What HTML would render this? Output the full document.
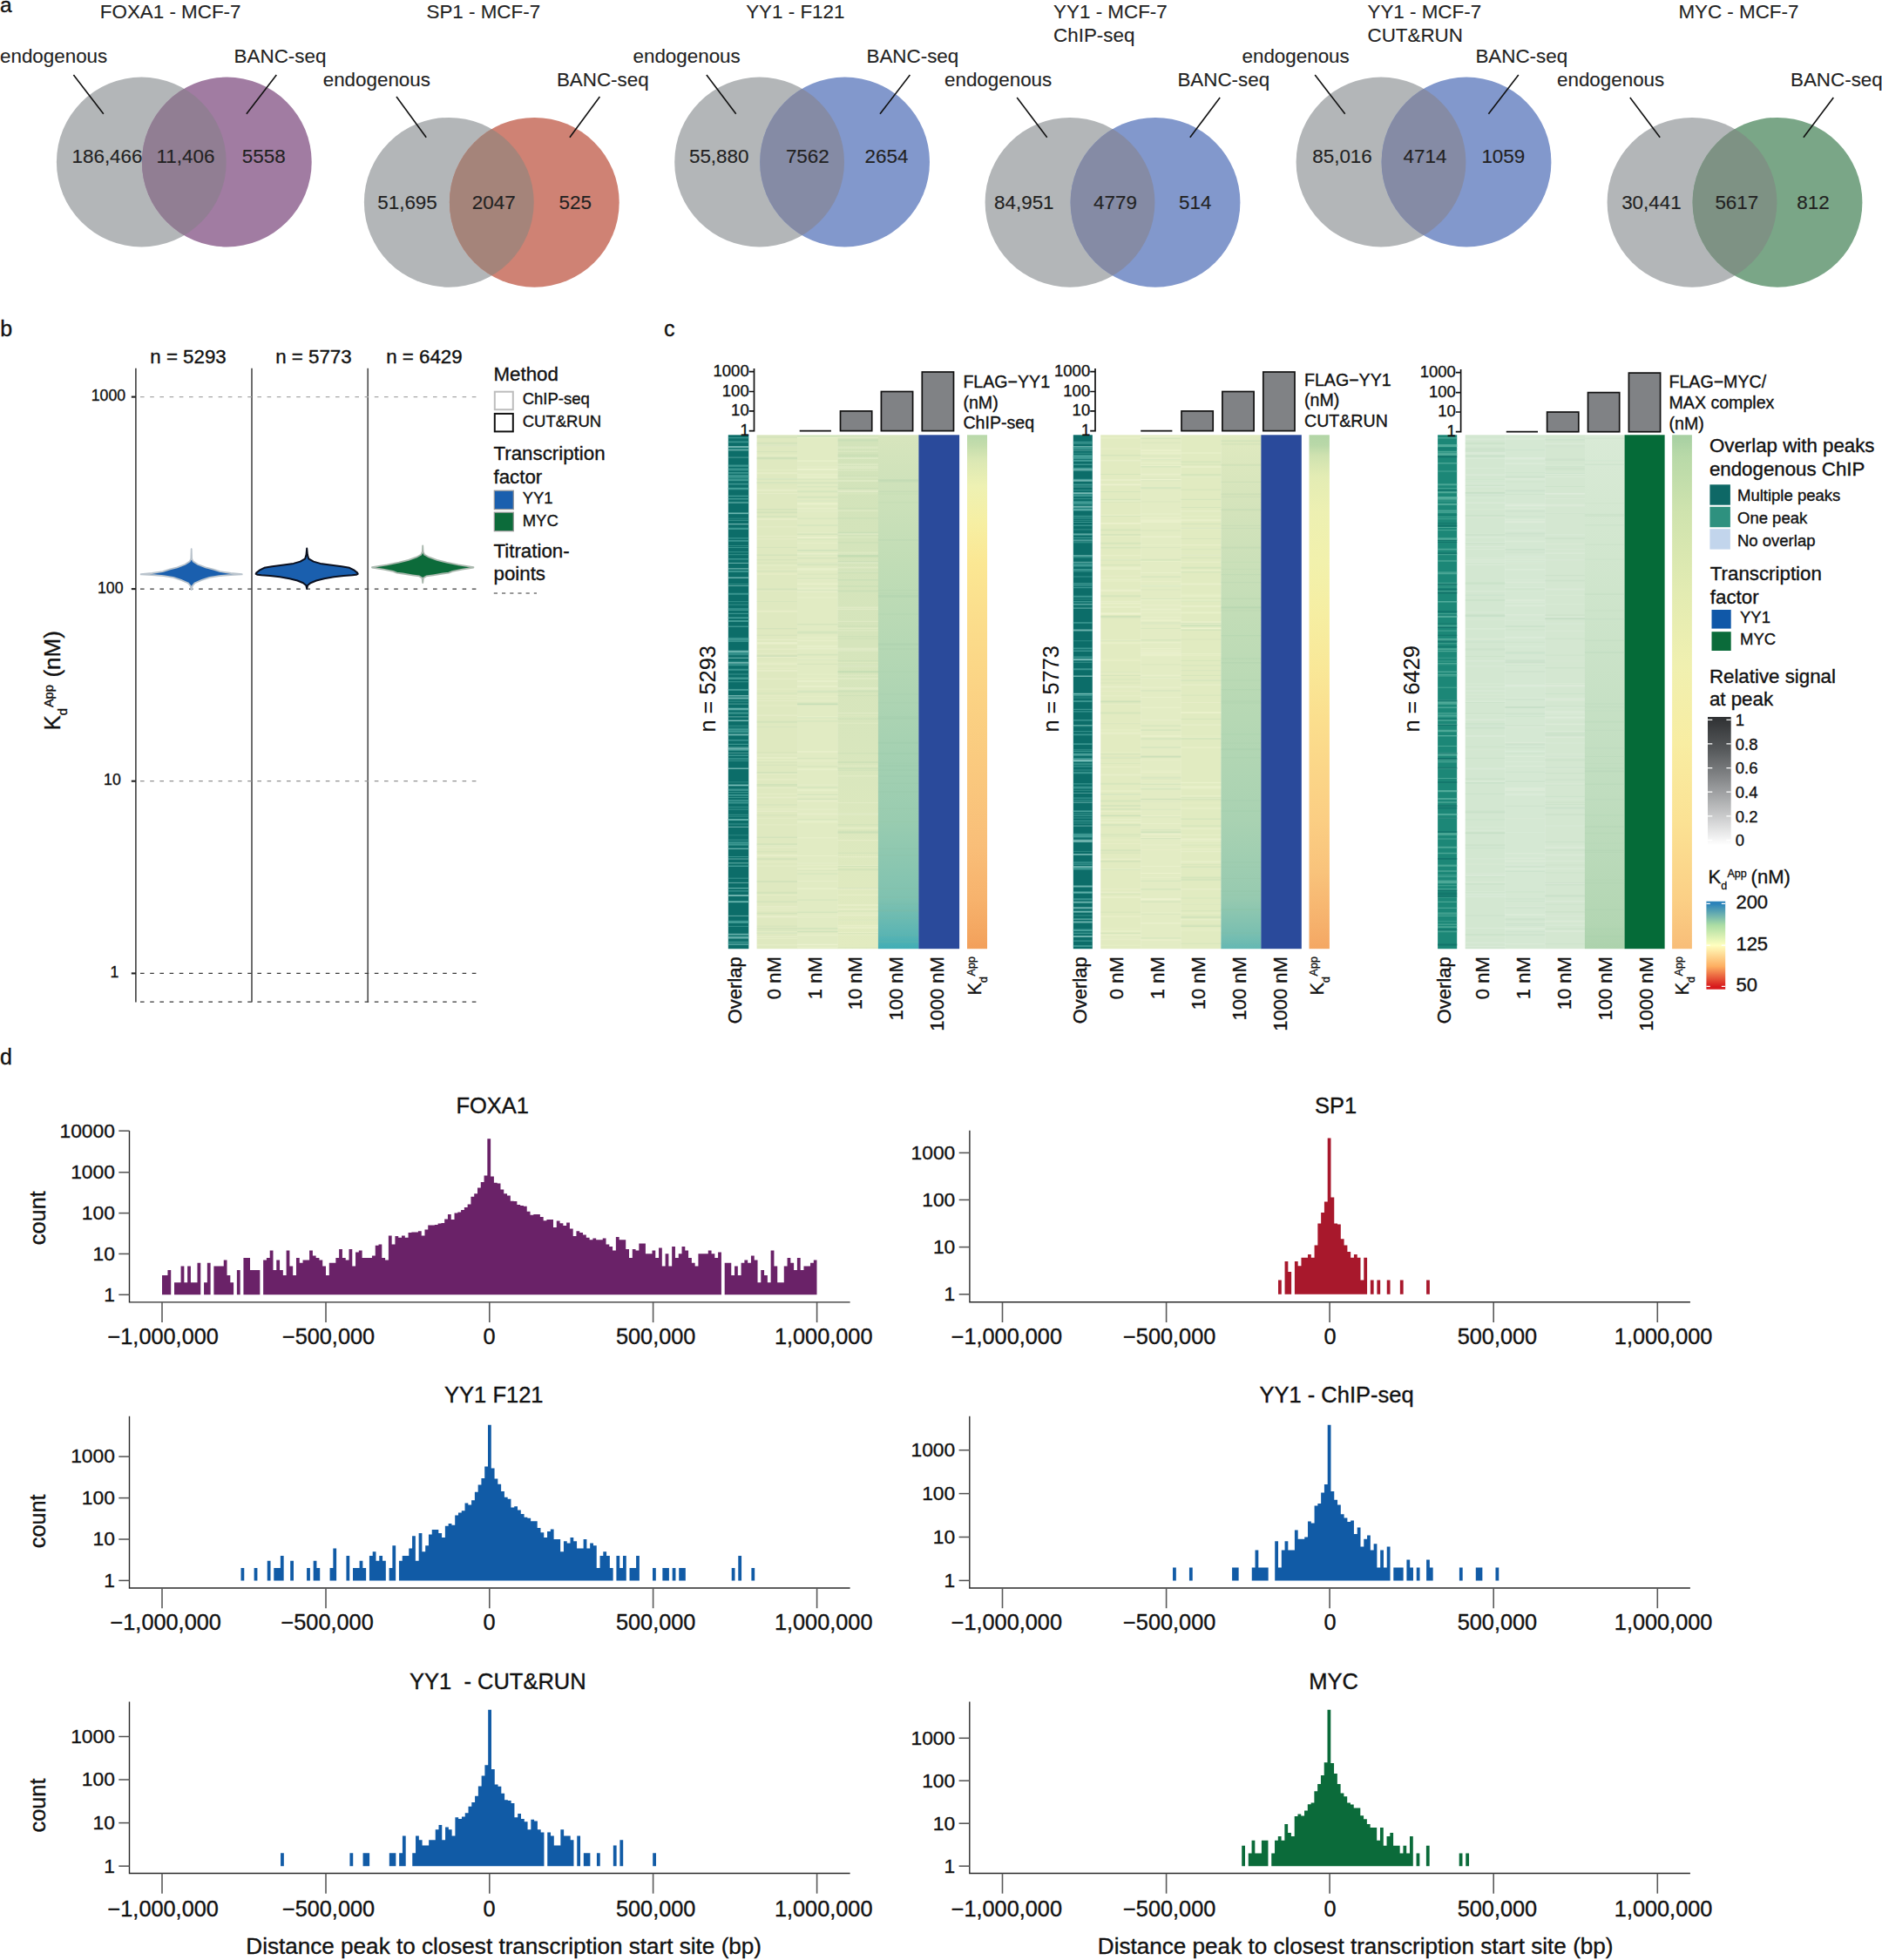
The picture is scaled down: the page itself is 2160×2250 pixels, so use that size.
<!DOCTYPE html>
<html><head><meta charset="utf-8"><title>Figure</title>
<style>
html,body{margin:0;padding:0;background:#fff;}
svg{display:block;}
text{font-family:"Liberation Sans",sans-serif;stroke:#111;stroke-width:0.35px;}
text.pa{stroke:#222;stroke-width:0.12px;}
text.pn{stroke-width:0.1px;}
</style></head><body>
<svg width="2160" height="2250" viewBox="0 0 2160 2250">
<rect width="2160" height="2250" fill="#fff"/>
<text x="0.0" y="14.3" font-size="24.5" text-anchor="start" fill="#111">a</text>
<text x="0.3" y="386.0" font-size="25" text-anchor="start" fill="#111">b</text>
<text x="762.0" y="386.0" font-size="25" text-anchor="start" fill="#111">c</text>
<text x="0.0" y="1221.7" font-size="25" text-anchor="start" fill="#111">d</text>
<defs>
<clipPath id="vc0"><circle cx="260.3" cy="186" r="97.4"/></clipPath>
<clipPath id="vc1"><circle cx="613.3" cy="232.3" r="97.4"/></clipPath>
<clipPath id="vc2"><circle cx="969.6" cy="186" r="97.4"/></clipPath>
<clipPath id="vc3"><circle cx="1326.0" cy="232.3" r="97.4"/></clipPath>
<clipPath id="vc4"><circle cx="1683.0" cy="186" r="97.4"/></clipPath>
<clipPath id="vc5"><circle cx="2040.0" cy="232.3" r="97.4"/></clipPath>
</defs>
<circle cx="162.3" cy="186" r="97.4" fill="#b3b6b8"/>
<circle cx="260.3" cy="186" r="97.4" fill="#a17ca2"/>
<circle cx="162.3" cy="186" r="97.4" fill="#917e93" clip-path="url(#vc0)"/>
<text x="114.8" y="21.4" font-size="22.4" text-anchor="start" fill="#222" class="pa">FOXA1 - MCF-7</text>
<text x="0.0" y="71.7" font-size="22.4" text-anchor="start" fill="#222" class="pa">endogenous</text>
<text x="268.6" y="71.7" font-size="22.4" text-anchor="start" fill="#222" class="pa">BANC-seq</text>
<line x1="84.4" y1="86" x2="118.8" y2="130.8" stroke="#111" stroke-width="1.6"/>
<line x1="317.3" y1="86" x2="282.9" y2="130.8" stroke="#111" stroke-width="1.6"/>
<text x="123.0" y="186.5" font-size="22.4" text-anchor="middle" fill="#222" class="pa">186,466</text>
<text x="213.0" y="186.5" font-size="22.4" text-anchor="middle" fill="#222" class="pa">11,406</text>
<text x="302.7" y="186.5" font-size="22.4" text-anchor="middle" fill="#222" class="pa">5558</text>
<circle cx="515.3" cy="232.3" r="97.4" fill="#b3b6b8"/>
<circle cx="613.3" cy="232.3" r="97.4" fill="#cf8274"/>
<circle cx="515.3" cy="232.3" r="97.4" fill="#a5847a" clip-path="url(#vc1)"/>
<text x="489.5" y="21.4" font-size="22.4" text-anchor="start" fill="#222" class="pa">SP1 - MCF-7</text>
<text x="370.7" y="98.5" font-size="22.4" text-anchor="start" fill="#222" class="pa">endogenous</text>
<text x="638.9" y="98.5" font-size="22.4" text-anchor="start" fill="#222" class="pa">BANC-seq</text>
<line x1="455" y1="111" x2="489.2" y2="157.8" stroke="#111" stroke-width="1.6"/>
<line x1="688.4" y1="111" x2="653.9" y2="157.8" stroke="#111" stroke-width="1.6"/>
<text x="467.5" y="239.6" font-size="22.4" text-anchor="middle" fill="#222" class="pa">51,695</text>
<text x="566.7" y="239.6" font-size="22.4" text-anchor="middle" fill="#222" class="pa">2047</text>
<text x="660.2" y="239.6" font-size="22.4" text-anchor="middle" fill="#222" class="pa">525</text>
<circle cx="871.6" cy="186" r="97.4" fill="#b3b6b8"/>
<circle cx="969.6" cy="186" r="97.4" fill="#8298cc"/>
<circle cx="871.6" cy="186" r="97.4" fill="#858ba5" clip-path="url(#vc2)"/>
<text x="856.2" y="21.4" font-size="22.4" text-anchor="start" fill="#222" class="pa">YY1 - F121</text>
<text x="726.5" y="71.7" font-size="22.4" text-anchor="start" fill="#222" class="pa">endogenous</text>
<text x="994.5" y="71.7" font-size="22.4" text-anchor="start" fill="#222" class="pa">BANC-seq</text>
<line x1="810.9" y1="86" x2="844.7" y2="130.8" stroke="#111" stroke-width="1.6"/>
<line x1="1044.4" y1="86" x2="1010" y2="130.8" stroke="#111" stroke-width="1.6"/>
<text x="825.2" y="186.5" font-size="22.4" text-anchor="middle" fill="#222" class="pa">55,880</text>
<text x="926.8" y="186.5" font-size="22.4" text-anchor="middle" fill="#222" class="pa">7562</text>
<text x="1017.5" y="186.5" font-size="22.4" text-anchor="middle" fill="#222" class="pa">2654</text>
<circle cx="1228" cy="232.3" r="97.4" fill="#b3b6b8"/>
<circle cx="1326.0" cy="232.3" r="97.4" fill="#8298cc"/>
<circle cx="1228" cy="232.3" r="97.4" fill="#858ba5" clip-path="url(#vc3)"/>
<text x="1209.1" y="21.4" font-size="22.4" text-anchor="start" fill="#222" class="pa">YY1 - MCF-7</text>
<text x="1209.1" y="47.8" font-size="22.4" text-anchor="start" fill="#222" class="pa">ChIP-seq</text>
<text x="1084.0" y="98.5" font-size="22.4" text-anchor="start" fill="#222" class="pa">endogenous</text>
<text x="1351.4" y="98.5" font-size="22.4" text-anchor="start" fill="#222" class="pa">BANC-seq</text>
<line x1="1167.2" y1="111.9" x2="1201.7" y2="157.8" stroke="#111" stroke-width="1.6"/>
<line x1="1400.2" y1="111.9" x2="1365.8" y2="157.8" stroke="#111" stroke-width="1.6"/>
<text x="1175.3" y="239.6" font-size="22.4" text-anchor="middle" fill="#222" class="pa">84,951</text>
<text x="1280.0" y="239.6" font-size="22.4" text-anchor="middle" fill="#222" class="pa">4779</text>
<text x="1371.8" y="239.6" font-size="22.4" text-anchor="middle" fill="#222" class="pa">514</text>
<circle cx="1585" cy="186" r="97.4" fill="#b3b6b8"/>
<circle cx="1683.0" cy="186" r="97.4" fill="#8298cc"/>
<circle cx="1585" cy="186" r="97.4" fill="#858ba5" clip-path="url(#vc4)"/>
<text x="1569.5" y="21.4" font-size="22.4" text-anchor="start" fill="#222" class="pa">YY1 - MCF-7</text>
<text x="1569.5" y="47.8" font-size="22.4" text-anchor="start" fill="#222" class="pa">CUT&amp;RUN</text>
<text x="1425.5" y="71.7" font-size="22.4" text-anchor="start" fill="#222" class="pa">endogenous</text>
<text x="1693.4" y="71.7" font-size="22.4" text-anchor="start" fill="#222" class="pa">BANC-seq</text>
<line x1="1509.2" y1="86" x2="1543.7" y2="130.8" stroke="#111" stroke-width="1.6"/>
<line x1="1742.8" y1="86" x2="1708.4" y2="130.8" stroke="#111" stroke-width="1.6"/>
<text x="1540.5" y="186.5" font-size="22.4" text-anchor="middle" fill="#222" class="pa">85,016</text>
<text x="1635.5" y="186.5" font-size="22.4" text-anchor="middle" fill="#222" class="pa">4714</text>
<text x="1725.3" y="186.5" font-size="22.4" text-anchor="middle" fill="#222" class="pa">1059</text>
<circle cx="1942" cy="232.3" r="97.4" fill="#b3b6b8"/>
<circle cx="2040.0" cy="232.3" r="97.4" fill="#7aa687"/>
<circle cx="1942" cy="232.3" r="97.4" fill="#7e9284" clip-path="url(#vc5)"/>
<text x="1926.4" y="21.4" font-size="22.4" text-anchor="start" fill="#222" class="pa">MYC - MCF-7</text>
<text x="1787.0" y="98.5" font-size="22.4" text-anchor="start" fill="#222" class="pa">endogenous</text>
<text x="2055.0" y="98.5" font-size="22.4" text-anchor="start" fill="#222" class="pa">BANC-seq</text>
<line x1="1870.8" y1="111.9" x2="1905.2" y2="157.8" stroke="#111" stroke-width="1.6"/>
<line x1="2104.3" y1="111.9" x2="2069.9" y2="157.8" stroke="#111" stroke-width="1.6"/>
<text x="1895.4" y="239.6" font-size="22.4" text-anchor="middle" fill="#222" class="pa">30,441</text>
<text x="1993.3" y="239.6" font-size="22.4" text-anchor="middle" fill="#222" class="pa">5617</text>
<text x="2081.0" y="239.6" font-size="22.4" text-anchor="middle" fill="#222" class="pa">812</text>
<line x1="155.9" y1="422.7" x2="155.9" y2="1150.6" stroke="#222" stroke-width="1.4"/>
<line x1="289" y1="422.7" x2="289" y2="1150.6" stroke="#555" stroke-width="1.7"/>
<line x1="422.2" y1="422.7" x2="422.2" y2="1150.6" stroke="#555" stroke-width="1.7"/>
<line x1="156" y1="455.6" x2="551" y2="455.6" stroke="#a8a8a8" stroke-width="1.25" stroke-dasharray="4.6 6.6" stroke-dashoffset="-5"/>
<line x1="150.8" y1="455.6" x2="156" y2="455.6" stroke="#222" stroke-width="2.1"/>
<text x="124.4" y="460.0" font-size="17.7" text-anchor="middle" fill="#111">1000</text>
<line x1="156" y1="676.1" x2="551" y2="676.1" stroke="#3a3a3a" stroke-width="1.25" stroke-dasharray="4.6 6.6" stroke-dashoffset="-5"/>
<line x1="150.8" y1="676.1" x2="156" y2="676.1" stroke="#222" stroke-width="2.1"/>
<text x="126.8" y="680.5" font-size="17.7" text-anchor="middle" fill="#111">100</text>
<line x1="156" y1="896.7" x2="551" y2="896.7" stroke="#909090" stroke-width="1.25" stroke-dasharray="4.6 6.6" stroke-dashoffset="-5"/>
<line x1="150.8" y1="896.7" x2="156" y2="896.7" stroke="#222" stroke-width="2.1"/>
<text x="128.9" y="901.1" font-size="17.7" text-anchor="middle" fill="#111">10</text>
<line x1="156" y1="1117.4" x2="551" y2="1117.4" stroke="#3a3a3a" stroke-width="1.25" stroke-dasharray="4.6 6.6" stroke-dashoffset="-5"/>
<line x1="150.8" y1="1117.4" x2="156" y2="1117.4" stroke="#222" stroke-width="2.1"/>
<text x="131.5" y="1121.8" font-size="17.7" text-anchor="middle" fill="#111">1</text>
<line x1="156" y1="1150.2" x2="551" y2="1150.2" stroke="#3a3a3a" stroke-width="1.25" stroke-dasharray="4.6 6.6" stroke-dashoffset="-5"/>
<text x="216.0" y="417.3" font-size="22.3" text-anchor="middle" fill="#111">n = 5293</text>
<text x="359.9" y="417.3" font-size="22.3" text-anchor="middle" fill="#111">n = 5773</text>
<text x="486.9" y="417.3" font-size="22.3" text-anchor="middle" fill="#111">n = 6429</text>
<g transform="rotate(-90 68.8 838.6)">
<text x="68.8" y="838.6" font-size="26" text-anchor="start" fill="#111">K</text>
<text x="86.1" y="847.1" font-size="15" text-anchor="start" fill="#111">d</text>
<text x="95.3" y="831.1" font-size="14.5" text-anchor="start" fill="#111">App</text>
<text x="129.8" y="838.6" font-size="26" text-anchor="start" fill="#111">(nM)</text>
</g>
<path d="M219.7 630.1 L220.1 641.3 L221.7 644.6 L227.1 648.0 L236.0 651.3 L244.9 653.6 L252.7 656.2 L265.0 658.0 L277.7 659.1 L277.7 659.4 L265.0 660.0 L251.6 661.1 L240.5 662.9 L231.5 665.8 L223.7 669.2 L220.8 672.5 L219.7 677.0 L219.7 677.0 L218.6 672.5 L215.7 669.2 L207.9 665.8 L198.9 662.9 L187.8 661.1 L174.4 660.0 L161.7 659.4 L161.7 659.1 L174.4 658.0 L186.7 656.2 L194.5 653.6 L203.4 651.3 L212.3 648.0 L217.7 644.6 L219.3 641.3 L219.7 630.1Z" fill="#1a5fae" stroke="#b9c3cc" stroke-width="1.8" stroke-linejoin="round"/>
<path d="M352.2 629.5 L352.9 636.8 L354.2 641.3 L359.8 644.6 L367.6 646.9 L378.8 648.4 L392.1 650.2 L401.1 651.8 L406.7 654.7 L410.2 657.6 L410.7 658.7 L410.7 658.9 L408.9 659.8 L404.4 660.3 L394.4 660.9 L383.2 662.3 L372.1 664.3 L363.1 666.5 L356.4 669.2 L353.1 671.9 L352.2 675.9 L352.2 675.9 L351.3 671.9 L348.0 669.2 L341.3 666.5 L332.3 664.3 L321.2 662.3 L310.0 660.9 L300.0 660.3 L295.5 659.8 L293.7 658.9 L293.7 658.7 L294.2 657.6 L297.7 654.7 L303.3 651.8 L312.3 650.2 L325.6 648.4 L336.8 646.9 L344.6 644.6 L350.2 641.3 L351.5 636.8 L352.2 629.5Z" fill="#1a5fae" stroke="#0a0f1e" stroke-width="2" stroke-linejoin="round"/>
<path d="M485.2 626.3 L485.6 633.5 L487.2 636.8 L492.6 639.7 L501.5 642.8 L512.6 645.7 L526.0 648.4 L543.4 651.1 L543.4 651.6 L530.5 653.6 L519.3 655.8 L514.9 657.6 L508.2 658.5 L497.0 660.3 L489.2 661.4 L485.9 663.6 L485.2 669.2 L485.2 669.2 L484.5 663.6 L481.2 661.4 L473.4 660.3 L462.2 658.5 L455.5 657.6 L451.1 655.8 L439.9 653.6 L427.0 651.6 L427.0 651.1 L444.4 648.4 L457.8 645.7 L468.9 642.8 L477.8 639.7 L483.2 636.8 L484.8 633.5 L485.2 626.3Z" fill="#0c6b3a" stroke="#aab8ae" stroke-width="1.8" stroke-linejoin="round"/>
<text x="566.5" y="436.7" font-size="22.3" text-anchor="start" fill="#111">Method</text>
<rect x="567.8" y="449.7" width="21" height="20.5" fill="#fff" stroke="#bdbdbd" stroke-width="2"/>
<rect x="567.8" y="474.9" width="21" height="20.5" fill="#fff" stroke="#111" stroke-width="2"/>
<text x="599.7" y="464.0" font-size="18.5" text-anchor="start" fill="#111">ChIP-seq</text>
<text x="599.7" y="489.6" font-size="18.5" text-anchor="start" fill="#111">CUT&amp;RUN</text>
<text x="566.5" y="528.3" font-size="22.3" text-anchor="start" fill="#111">Transcription</text>
<text x="566.5" y="554.6" font-size="22.3" text-anchor="start" fill="#111">factor</text>
<rect x="567.3" y="563.2" width="22" height="21.5" fill="#1a5fae" stroke="#999" stroke-width="1.2"/>
<rect x="567.3" y="588.2" width="22" height="21.5" fill="#0c6b3a" stroke="#999" stroke-width="1.2"/>
<text x="599.7" y="578.4" font-size="18.5" text-anchor="start" fill="#111">YY1</text>
<text x="599.7" y="603.6" font-size="18.5" text-anchor="start" fill="#111">MYC</text>
<text x="566.5" y="639.6" font-size="22.3" text-anchor="start" fill="#111">Titration-</text>
<text x="566.5" y="666.0" font-size="22.3" text-anchor="start" fill="#111">points</text>
<line x1="566.8" y1="681" x2="616" y2="681" stroke="#777" stroke-width="1.3" stroke-dasharray="4.2 5"/>
<rect x="835.8" y="499.3" width="23.5" height="589.9" fill="#0c6d69"/>
<path d="M835.8 690.7H859.3M835.8 573.1H859.3M835.8 827.6H859.3M835.8 670.6H859.3M835.8 836.1H859.3M835.8 535.3H859.3M835.8 712.9H859.3M835.8 576.3H859.3M835.8 1063.4H859.3M835.8 549.1H859.3M835.8 636.7H859.3M835.8 833.3H859.3M835.8 735.7H859.3M835.8 539.9H859.3M835.8 515.3H859.3M835.8 861.3H859.3M835.8 805.1H859.3M835.8 709.4H859.3M835.8 694.1H859.3M835.8 860.8H859.3M835.8 935.3H859.3M835.8 777.9H859.3M835.8 633.7H859.3M835.8 926.4H859.3" stroke="#4fa7a0" stroke-width="0.9" opacity="0.7" fill="none"/>
<path d="M835.8 732.4H859.3M835.8 626.5H859.3M835.8 755.2H859.3M835.8 844.5H859.3M835.8 1074.2H859.3M835.8 958.8H859.3M835.8 858.3H859.3M835.8 968.8H859.3M835.8 569.1H859.3M835.8 897.8H859.3M835.8 759.3H859.3M835.8 700.2H859.3M835.8 589.2H859.3M835.8 550.8H859.3M835.8 595.2H859.3M835.8 819.6H859.3M835.8 1075.6H859.3M835.8 709.3H859.3M835.8 547.6H859.3M835.8 970.4H859.3M835.8 991.0H859.3M835.8 937.3H859.3" stroke="#4fa7a0" stroke-width="0.7" opacity="0.7" fill="none"/>
<path d="M835.8 542.9H859.3M835.8 555.6H859.3M835.8 534.4H859.3M835.8 641.8H859.3M835.8 749.9H859.3M835.8 871.0H859.3M835.8 1057.5H859.3M835.8 818.2H859.3M835.8 606.5H859.3M835.8 719.2H859.3M835.8 918.9H859.3M835.8 792.1H859.3M835.8 838.0H859.3M835.8 545.9H859.3M835.8 849.7H859.3M835.8 709.3H859.3M835.8 507.4H859.3M835.8 814.6H859.3M835.8 906.2H859.3M835.8 560.5H859.3M835.8 1058.2H859.3M835.8 620.9H859.3M835.8 813.4H859.3M835.8 867.2H859.3" stroke="#4fa7a0" stroke-width="1.6" opacity="0.7" fill="none"/>
<path d="M835.8 681.7H859.3M835.8 967.3H859.3M835.8 748.2H859.3M835.8 779.0H859.3M835.8 538.5H859.3M835.8 912.7H859.3M835.8 840.1H859.3M835.8 921.6H859.3M835.8 1058.9H859.3M835.8 768.8H859.3M835.8 561.2H859.3M835.8 941.0H859.3M835.8 656.0H859.3M835.8 713.0H859.3M835.8 763.2H859.3M835.8 1035.2H859.3M835.8 551.3H859.3" stroke="#4fa7a0" stroke-width="2.0" opacity="0.7" fill="none"/>
<path d="M835.8 751.7H859.3M835.8 791.4H859.3M835.8 929.1H859.3M835.8 597.3H859.3M835.8 837.2H859.3M835.8 700.3H859.3M835.8 994.1H859.3M835.8 983.5H859.3M835.8 628.6H859.3M835.8 736.4H859.3M835.8 1008.2H859.3M835.8 915.6H859.3M835.8 607.5H859.3M835.8 873.3H859.3M835.8 782.7H859.3M835.8 946.0H859.3M835.8 909.6H859.3M835.8 1082.1H859.3M835.8 907.4H859.3M835.8 1081.2H859.3M835.8 1034.8H859.3M835.8 964.2H859.3" stroke="#4fa7a0" stroke-width="1" opacity="0.7" fill="none"/>
<path d="M835.8 774.0H859.3M835.8 569.7H859.3M835.8 589.7H859.3M835.8 704.3H859.3M835.8 734.2H859.3M835.8 547.7H859.3M835.8 1019.6H859.3M835.8 901.7H859.3M835.8 502.7H859.3M835.8 969.4H859.3M835.8 734.3H859.3M835.8 854.4H859.3M835.8 572.5H859.3M835.8 1084.1H859.3M835.8 974.2H859.3M835.8 617.8H859.3M835.8 698.9H859.3M835.8 994.4H859.3M835.8 941.3H859.3M835.8 1022.9H859.3M835.8 733.0H859.3" stroke="#4fa7a0" stroke-width="1.2" opacity="0.7" fill="none"/>
<path d="M835.8 1084.2H859.3M835.8 990.7H859.3M835.8 808.1H859.3M835.8 864.3H859.3M835.8 826.8H859.3M835.8 1019.5H859.3M835.8 525.1H859.3M835.8 516.7H859.3" stroke="#8cc9c4" stroke-width="0.7" opacity="0.75" fill="none"/>
<path d="M835.8 589.2H859.3M835.8 652.8H859.3M835.8 601.6H859.3M835.8 813.8H859.3" stroke="#8cc9c4" stroke-width="1.2" opacity="0.75" fill="none"/>
<path d="M835.8 974.4H859.3M835.8 1051.4H859.3M835.8 822.9H859.3M835.8 940.9H859.3M835.8 755.3H859.3M835.8 986.0H859.3M835.8 516.8H859.3M835.8 672.5H859.3M835.8 577.2H859.3M835.8 1013.4H859.3M835.8 858.1H859.3" stroke="#8cc9c4" stroke-width="0.9" opacity="0.75" fill="none"/>
<path d="M835.8 859.8H859.3M835.8 882.2H859.3M835.8 843.3H859.3M835.8 747.6H859.3M835.8 901.4H859.3M835.8 798.8H859.3M835.8 760.9H859.3M835.8 1072.5H859.3M835.8 663.3H859.3" stroke="#8cc9c4" stroke-width="1.6" opacity="0.75" fill="none"/>
<path d="M835.8 1076.6H859.3M835.8 512.9H859.3M835.8 1028.1H859.3M835.8 801.4H859.3" stroke="#8cc9c4" stroke-width="2.0" opacity="0.75" fill="none"/>
<path d="M835.8 949.3H859.3M835.8 1035.3H859.3M835.8 827.5H859.3M835.8 646.4H859.3" stroke="#8cc9c4" stroke-width="1" opacity="0.75" fill="none"/>
<rect x="868.6" y="499.3" width="46.7" height="589.9" fill="#dfe9c0"/>
<rect x="915.04" y="499.3" width="46.8" height="589.9" fill="#e1ebc3"/>
<defs><linearGradient id="h0c2" x1="0" y1="0" x2="0" y2="1"><stop offset="0" stop-color="#d2e3ba"/><stop offset="0.6" stop-color="#d8e6bd"/><stop offset="1" stop-color="#e2ebc0"/></linearGradient></defs>
<rect x="961.5" y="499.3" width="46.7" height="589.9" fill="url(#h0c2)"/>
<defs><linearGradient id="h0c3" x1="0" y1="0" x2="0" y2="1"><stop offset="0" stop-color="#d7e5bd"/><stop offset="0.25" stop-color="#c1ddb6"/><stop offset="0.5" stop-color="#afd5b3"/><stop offset="0.75" stop-color="#99ccb0"/><stop offset="0.9" stop-color="#80c2b0"/><stop offset="0.97" stop-color="#5cb5b3"/><stop offset="1" stop-color="#40adb5"/></linearGradient></defs>
<rect x="1007.9" y="499.3" width="46.8" height="589.9" fill="url(#h0c3)"/>
<rect x="1054.4" y="499.3" width="46.7" height="589.9" fill="#2a4a9b"/>
<path d="M868.6 798.8H915.0M868.6 1042.8H915.0M868.6 994.1H915.0M868.6 1027.7H915.0M868.6 888.5H915.0M868.6 649.1H915.0M868.6 1069.1H915.0M868.6 989.7H915.0M868.6 566.6H915.0M868.6 523.6H915.0M868.6 659.3H915.0M868.6 970.4H915.0M868.6 549.5H915.0M868.6 810.1H915.0M868.6 1051.8H915.0M868.6 654.3H915.0M868.6 904.6H915.0M868.6 928.8H915.0M868.6 1077.5H915.0" stroke="#fdfde0" stroke-width="0.9" opacity="0.26" fill="none"/>
<path d="M868.6 911.4H915.0M868.6 615.4H915.0M868.6 554.5H915.0M868.6 510.9H915.0M868.6 804.5H915.0M868.6 549.7H915.0M868.6 981.8H915.0M868.6 791.1H915.0M868.6 873.3H915.0M868.6 767.1H915.0M868.6 1045.1H915.0M868.6 618.9H915.0M868.6 946.8H915.0M868.6 604.9H915.0M868.6 972.8H915.0M868.6 1070.7H915.0M868.6 738.2H915.0" stroke="#fdfde0" stroke-width="1" opacity="0.26" fill="none"/>
<path d="M868.6 745.2H915.0M868.6 894.9H915.0M868.6 734.4H915.0M868.6 737.7H915.0M868.6 1084.9H915.0M868.6 779.4H915.0M868.6 754.4H915.0M868.6 821.2H915.0" stroke="#fdfde0" stroke-width="1.2" opacity="0.26" fill="none"/>
<path d="M868.6 760.2H915.0M868.6 678.3H915.0M868.6 939.3H915.0M868.6 801.5H915.0M868.6 1071.6H915.0M868.6 552.9H915.0M868.6 750.3H915.0M868.6 658.4H915.0M868.6 539.5H915.0M868.6 865.8H915.0M868.6 522.0H915.0" stroke="#fdfde0" stroke-width="0.7" opacity="0.26" fill="none"/>
<path d="M868.6 543.3H915.0M868.6 1052.6H915.0M868.6 596.0H915.0M868.6 770.0H915.0M868.6 982.2H915.0M868.6 762.3H915.0M868.6 562.8H915.0M868.6 701.8H915.0" stroke="#fdfde0" stroke-width="2.0" opacity="0.26" fill="none"/>
<path d="M868.6 915.5H915.0M868.6 511.8H915.0M868.6 739.0H915.0M868.6 1040.7H915.0M868.6 869.9H915.0M868.6 931.3H915.0M868.6 1075.3H915.0" stroke="#fdfde0" stroke-width="1.6" opacity="0.26" fill="none"/>
<path d="M868.6 508.7H915.0M868.6 1012.1H915.0M868.6 676.5H915.0M868.6 886.9H915.0M868.6 588.2H915.0M868.6 526.0H915.0M868.6 1024.7H915.0M868.6 752.7H915.0M868.6 969.4H915.0M868.6 901.8H915.0M868.6 828.7H915.0M868.6 969.3H915.0" stroke="#9cc7a0" stroke-width="2.0" opacity="0.16" fill="none"/>
<path d="M868.6 935.9H915.0M868.6 642.7H915.0M868.6 502.4H915.0M868.6 1068.0H915.0M868.6 549.6H915.0M868.6 729.3H915.0" stroke="#9cc7a0" stroke-width="1" opacity="0.16" fill="none"/>
<path d="M868.6 753.5H915.0M868.6 690.5H915.0M868.6 646.2H915.0M868.6 553.7H915.0M868.6 524.8H915.0M868.6 834.5H915.0M868.6 878.3H915.0M868.6 874.9H915.0" stroke="#9cc7a0" stroke-width="0.7" opacity="0.16" fill="none"/>
<path d="M868.6 550.0H915.0M868.6 592.9H915.0M868.6 500.9H915.0M868.6 924.0H915.0M868.6 721.7H915.0M868.6 900.5H915.0M868.6 655.4H915.0" stroke="#9cc7a0" stroke-width="1.2" opacity="0.16" fill="none"/>
<path d="M868.6 1071.1H915.0M868.6 1065.7H915.0M868.6 584.9H915.0M868.6 637.2H915.0M868.6 961.2H915.0M868.6 1035.2H915.0M868.6 986.1H915.0M868.6 511.4H915.0M868.6 1048.5H915.0M868.6 554.4H915.0" stroke="#9cc7a0" stroke-width="1.6" opacity="0.16" fill="none"/>
<path d="M868.6 526.9H915.0M868.6 628.4H915.0M868.6 795.9H915.0M868.6 1063.3H915.0M868.6 864.0H915.0M868.6 977.8H915.0M868.6 518.6H915.0" stroke="#9cc7a0" stroke-width="0.9" opacity="0.16" fill="none"/>
<path d="M915.0 539.1H961.5M915.0 635.9H961.5M915.0 781.9H961.5M915.0 863.0H961.5M915.0 883.3H961.5M915.0 907.2H961.5M915.0 788.1H961.5M915.0 578.3H961.5M915.0 919.5H961.5M915.0 1020.2H961.5M915.0 823.2H961.5M915.0 547.7H961.5M915.0 942.8H961.5M915.0 675.4H961.5M915.0 934.6H961.5M915.0 653.3H961.5" stroke="#fdfde0" stroke-width="2.0" opacity="0.26" fill="none"/>
<path d="M915.0 778.9H961.5M915.0 997.4H961.5M915.0 669.2H961.5M915.0 1072.0H961.5M915.0 774.2H961.5M915.0 617.4H961.5M915.0 1050.7H961.5M915.0 670.5H961.5M915.0 544.2H961.5M915.0 799.4H961.5M915.0 993.6H961.5M915.0 944.6H961.5M915.0 665.3H961.5" stroke="#fdfde0" stroke-width="0.7" opacity="0.26" fill="none"/>
<path d="M915.0 997.7H961.5M915.0 929.1H961.5M915.0 623.7H961.5M915.0 913.8H961.5M915.0 732.0H961.5M915.0 677.8H961.5M915.0 1052.9H961.5M915.0 873.6H961.5" stroke="#fdfde0" stroke-width="0.9" opacity="0.26" fill="none"/>
<path d="M915.0 1073.9H961.5M915.0 578.7H961.5M915.0 804.0H961.5M915.0 982.3H961.5M915.0 1084.7H961.5M915.0 793.0H961.5M915.0 502.4H961.5M915.0 901.0H961.5M915.0 745.0H961.5M915.0 538.5H961.5M915.0 545.2H961.5M915.0 961.9H961.5M915.0 1011.5H961.5M915.0 575.1H961.5" stroke="#fdfde0" stroke-width="1.2" opacity="0.26" fill="none"/>
<path d="M915.0 616.9H961.5M915.0 679.3H961.5M915.0 1084.3H961.5M915.0 583.6H961.5M915.0 1087.5H961.5M915.0 735.5H961.5M915.0 741.9H961.5M915.0 529.1H961.5" stroke="#fdfde0" stroke-width="1.6" opacity="0.26" fill="none"/>
<path d="M915.0 587.0H961.5M915.0 536.0H961.5M915.0 654.2H961.5M915.0 686.1H961.5M915.0 501.3H961.5M915.0 670.7H961.5M915.0 991.0H961.5M915.0 646.9H961.5M915.0 756.8H961.5M915.0 611.9H961.5M915.0 744.2H961.5" stroke="#fdfde0" stroke-width="1" opacity="0.26" fill="none"/>
<path d="M915.0 640.6H961.5M915.0 827.9H961.5M915.0 794.6H961.5M915.0 823.9H961.5M915.0 1033.1H961.5M915.0 941.0H961.5M915.0 808.5H961.5M915.0 575.1H961.5M915.0 917.4H961.5M915.0 1069.6H961.5M915.0 500.4H961.5M915.0 1003.2H961.5M915.0 912.4H961.5M915.0 677.6H961.5" stroke="#9cc7a0" stroke-width="1.2" opacity="0.16" fill="none"/>
<path d="M915.0 570.7H961.5M915.0 725.4H961.5M915.0 726.4H961.5M915.0 807.4H961.5M915.0 564.3H961.5M915.0 1066.1H961.5M915.0 648.3H961.5" stroke="#9cc7a0" stroke-width="2.0" opacity="0.16" fill="none"/>
<path d="M915.0 595.3H961.5M915.0 553.9H961.5M915.0 1069.2H961.5M915.0 870.5H961.5M915.0 554.7H961.5M915.0 631.9H961.5M915.0 501.1H961.5" stroke="#9cc7a0" stroke-width="0.9" opacity="0.16" fill="none"/>
<path d="M915.0 751.6H961.5M915.0 603.0H961.5M915.0 716.8H961.5M915.0 793.2H961.5M915.0 904.0H961.5M915.0 1047.2H961.5M915.0 808.6H961.5M915.0 631.7H961.5M915.0 501.0H961.5" stroke="#9cc7a0" stroke-width="1.6" opacity="0.16" fill="none"/>
<path d="M915.0 613.4H961.5M915.0 619.1H961.5M915.0 659.2H961.5M915.0 999.2H961.5M915.0 646.4H961.5M915.0 550.3H961.5M915.0 637.0H961.5M915.0 757.5H961.5" stroke="#9cc7a0" stroke-width="0.7" opacity="0.16" fill="none"/>
<path d="M915.0 762.4H961.5M915.0 879.8H961.5M915.0 558.8H961.5M915.0 613.0H961.5M915.0 664.1H961.5" stroke="#9cc7a0" stroke-width="1" opacity="0.16" fill="none"/>
<path d="M961.5 879.2H1007.9M961.5 779.7H1007.9M961.5 1044.2H1007.9M961.5 950.5H1007.9M961.5 636.0H1007.9M961.5 791.8H1007.9M961.5 1073.0H1007.9M961.5 830.2H1007.9M961.5 514.6H1007.9" stroke="#fdfde0" stroke-width="0.9" opacity="0.26" fill="none"/>
<path d="M961.5 821.9H1007.9M961.5 882.2H1007.9M961.5 532.3H1007.9M961.5 566.9H1007.9M961.5 760.4H1007.9M961.5 1062.0H1007.9M961.5 951.0H1007.9M961.5 537.1H1007.9M961.5 1056.7H1007.9" stroke="#fdfde0" stroke-width="0.7" opacity="0.26" fill="none"/>
<path d="M961.5 1065.0H1007.9M961.5 1020.5H1007.9M961.5 790.1H1007.9M961.5 745.5H1007.9M961.5 744.5H1007.9M961.5 764.6H1007.9M961.5 1019.8H1007.9M961.5 612.4H1007.9M961.5 1050.5H1007.9M961.5 551.9H1007.9M961.5 646.1H1007.9M961.5 651.4H1007.9M961.5 525.9H1007.9M961.5 1039.1H1007.9M961.5 563.4H1007.9" stroke="#fdfde0" stroke-width="2.0" opacity="0.26" fill="none"/>
<path d="M961.5 513.1H1007.9M961.5 634.2H1007.9M961.5 699.0H1007.9M961.5 713.3H1007.9M961.5 539.9H1007.9M961.5 1027.3H1007.9M961.5 586.4H1007.9M961.5 535.7H1007.9M961.5 890.9H1007.9M961.5 547.8H1007.9M961.5 983.6H1007.9M961.5 818.7H1007.9M961.5 933.8H1007.9M961.5 518.1H1007.9M961.5 721.1H1007.9M961.5 1062.8H1007.9M961.5 964.6H1007.9" stroke="#fdfde0" stroke-width="1.2" opacity="0.26" fill="none"/>
<path d="M961.5 747.2H1007.9M961.5 616.8H1007.9M961.5 1070.5H1007.9M961.5 656.1H1007.9M961.5 1048.0H1007.9M961.5 775.2H1007.9M961.5 993.6H1007.9M961.5 502.0H1007.9M961.5 723.8H1007.9M961.5 778.6H1007.9M961.5 613.8H1007.9M961.5 699.6H1007.9M961.5 921.6H1007.9M961.5 1043.7H1007.9" stroke="#fdfde0" stroke-width="1" opacity="0.26" fill="none"/>
<path d="M961.5 934.8H1007.9M961.5 564.4H1007.9M961.5 533.5H1007.9M961.5 537.3H1007.9M961.5 697.2H1007.9M961.5 502.5H1007.9" stroke="#fdfde0" stroke-width="1.6" opacity="0.26" fill="none"/>
<path d="M961.5 979.3H1007.9M961.5 1045.9H1007.9M961.5 546.8H1007.9M961.5 730.6H1007.9M961.5 1071.8H1007.9M961.5 934.2H1007.9M961.5 758.6H1007.9M961.5 644.5H1007.9M961.5 733.1H1007.9M961.5 798.6H1007.9M961.5 1019.3H1007.9M961.5 719.1H1007.9M961.5 864.8H1007.9M961.5 583.4H1007.9" stroke="#9cc7a0" stroke-width="0.9" opacity="0.16" fill="none"/>
<path d="M961.5 505.4H1007.9M961.5 678.6H1007.9M961.5 793.4H1007.9M961.5 771.3H1007.9M961.5 998.2H1007.9M961.5 955.9H1007.9M961.5 875.1H1007.9" stroke="#9cc7a0" stroke-width="2.0" opacity="0.16" fill="none"/>
<path d="M961.5 954.6H1007.9M961.5 771.2H1007.9M961.5 638.4H1007.9M961.5 673.0H1007.9M961.5 665.7H1007.9M961.5 611.8H1007.9" stroke="#9cc7a0" stroke-width="1.6" opacity="0.16" fill="none"/>
<path d="M961.5 639.1H1007.9M961.5 825.2H1007.9M961.5 946.8H1007.9M961.5 657.7H1007.9M961.5 994.5H1007.9M961.5 524.0H1007.9M961.5 764.3H1007.9M961.5 522.3H1007.9" stroke="#9cc7a0" stroke-width="1" opacity="0.16" fill="none"/>
<path d="M961.5 645.7H1007.9M961.5 1019.7H1007.9M961.5 656.0H1007.9M961.5 611.0H1007.9M961.5 882.2H1007.9M961.5 884.4H1007.9M961.5 637.2H1007.9M961.5 614.4H1007.9M961.5 1056.3H1007.9M961.5 1088.1H1007.9" stroke="#9cc7a0" stroke-width="0.7" opacity="0.16" fill="none"/>
<path d="M961.5 882.2H1007.9M961.5 594.8H1007.9M961.5 622.8H1007.9M961.5 638.0H1007.9M961.5 560.5H1007.9" stroke="#9cc7a0" stroke-width="1.2" opacity="0.16" fill="none"/>
<path d="M1007.9 852.7H1054.4M1007.9 1081.3H1054.4M1007.9 824.6H1054.4M1007.9 1045.4H1054.4M1007.9 551.0H1054.4" stroke="#8cbf9c" stroke-width="2.0" opacity="0.12" fill="none"/>
<path d="M1007.9 1037.6H1054.4M1007.9 865.4H1054.4M1007.9 822.5H1054.4M1007.9 876.1H1054.4M1007.9 681.1H1054.4M1007.9 567.0H1054.4M1007.9 576.7H1054.4M1007.9 806.7H1054.4M1007.9 677.6H1054.4" stroke="#8cbf9c" stroke-width="0.7" opacity="0.12" fill="none"/>
<path d="M1007.9 981.7H1054.4M1007.9 619.9H1054.4M1007.9 740.3H1054.4M1007.9 884.2H1054.4M1007.9 909.1H1054.4M1007.9 1019.8H1054.4M1007.9 879.2H1054.4M1007.9 1054.1H1054.4M1007.9 1030.4H1054.4M1007.9 974.4H1054.4M1007.9 564.3H1054.4M1007.9 1073.8H1054.4M1007.9 1044.8H1054.4" stroke="#8cbf9c" stroke-width="1.2" opacity="0.12" fill="none"/>
<path d="M1007.9 899.1H1054.4M1007.9 890.7H1054.4M1007.9 928.3H1054.4M1007.9 771.3H1054.4M1007.9 796.9H1054.4M1007.9 704.9H1054.4M1007.9 943.3H1054.4M1007.9 865.0H1054.4" stroke="#8cbf9c" stroke-width="0.9" opacity="0.12" fill="none"/>
<path d="M1007.9 683.9H1054.4M1007.9 552.6H1054.4M1007.9 685.2H1054.4" stroke="#8cbf9c" stroke-width="1.6" opacity="0.12" fill="none"/>
<path d="M1007.9 745.1H1054.4M1007.9 739.1H1054.4" stroke="#8cbf9c" stroke-width="1" opacity="0.12" fill="none"/>
<defs><linearGradient id="h0kd" x1="0" y1="0" x2="0" y2="1"><stop offset="0" stop-color="#b8d8aa"/><stop offset="0.02" stop-color="#c4ddac"/><stop offset="0.05" stop-color="#dbe8b4"/><stop offset="0.1" stop-color="#eef1b3"/><stop offset="0.17" stop-color="#f6efa3"/><stop offset="0.25" stop-color="#fbe793"/><stop offset="0.35" stop-color="#fbde8c"/><stop offset="0.5" stop-color="#fbd384"/><stop offset="0.65" stop-color="#fac97e"/><stop offset="0.8" stop-color="#f9be78"/><stop offset="0.9" stop-color="#f7b36d"/><stop offset="0.97" stop-color="#f4a660"/><stop offset="1" stop-color="#f29f5b"/></linearGradient></defs>
<rect x="1110" y="499.3" width="23.0" height="589.9" fill="url(#h0kd)"/>
<path d="M859.7 426.6H865.5M859.7 449.5H865.5M859.7 471.9H865.5M859.7 494.6H865.5M865.5 423.0V495.4" stroke="#111" stroke-width="1.7" fill="none"/>
<text x="859.7" y="431.8" font-size="18.5" text-anchor="end" fill="#111">1000</text>
<text x="859.7" y="454.7" font-size="18.5" text-anchor="end" fill="#111">100</text>
<text x="859.7" y="477.1" font-size="18.5" text-anchor="end" fill="#111">10</text>
<text x="859.7" y="499.8" font-size="18.5" text-anchor="end" fill="#111">1</text>
<line x1="917.7" y1="494.6" x2="953.9" y2="494.6" stroke="#111" stroke-width="1.7"/>
<rect x="964.5" y="471.9" width="36.2" height="22.7" fill="#808285" stroke="#111" stroke-width="1.7"/>
<rect x="1011.4" y="449.5" width="36.2" height="45.1" fill="#808285" stroke="#111" stroke-width="1.7"/>
<rect x="1058.3" y="427.0" width="36.2" height="67.6" fill="#808285" stroke="#111" stroke-width="1.7"/>
<text x="1105.4" y="444.6" font-size="19.6" text-anchor="start" fill="#111">FLAG−YY1</text>
<text x="1105.4" y="468.5" font-size="19.6" text-anchor="start" fill="#111">(nM)</text>
<text x="1105.4" y="492.3" font-size="19.6" text-anchor="start" fill="#111">ChIP-seq</text>
<text x="851.4" y="1098.2" font-size="22" text-anchor="end" fill="#111" transform="rotate(-90 851.4 1098.2)">Overlap</text>
<text x="895.6" y="1098.2" font-size="22" text-anchor="end" fill="#111" transform="rotate(-90 895.6 1098.2)">0 nM</text>
<text x="942.6" y="1098.2" font-size="22" text-anchor="end" fill="#111" transform="rotate(-90 942.6 1098.2)">1 nM</text>
<text x="989.5" y="1098.2" font-size="22" text-anchor="end" fill="#111" transform="rotate(-90 989.5 1098.2)">10 nM</text>
<text x="1036.5" y="1098.2" font-size="22" text-anchor="end" fill="#111" transform="rotate(-90 1036.5 1098.2)">100 nM</text>
<text x="1083.5" y="1098.2" font-size="22" text-anchor="end" fill="#111" transform="rotate(-90 1083.5 1098.2)">1000 nM</text>
<g transform="rotate(-90 1127.0 1098.2)">
<text x="1082.6" y="1097.2" font-size="22" text-anchor="start" fill="#111">K</text>
<text x="1097.3" y="1104.2" font-size="12.5" text-anchor="start" fill="#111">d</text>
<text x="1104.8" y="1090.2" font-size="12.5" text-anchor="start" fill="#111">App</text>
</g>
<text x="821.3" y="790.8" font-size="26.6" text-anchor="middle" fill="#111" transform="rotate(-90 821.3 790.8)" textLength="99.5" lengthAdjust="spacingAndGlyphs" class="pn">n = 5293</text>
<rect x="1231.8" y="499.3" width="22.0" height="589.9" fill="#0c6d69"/>
<path d="M1231.8 876.7H1253.8M1231.8 607.9H1253.8M1231.8 572.6H1253.8M1231.8 1071.0H1253.8M1231.8 796.4H1253.8M1231.8 884.0H1253.8M1231.8 669.5H1253.8M1231.8 944.9H1253.8M1231.8 862.4H1253.8M1231.8 760.3H1253.8M1231.8 520.2H1253.8M1231.8 577.9H1253.8M1231.8 1050.9H1253.8M1231.8 931.5H1253.8M1231.8 515.1H1253.8M1231.8 886.4H1253.8M1231.8 583.9H1253.8M1231.8 877.7H1253.8M1231.8 619.5H1253.8" stroke="#4fa7a0" stroke-width="0.9" opacity="0.7" fill="none"/>
<path d="M1231.8 865.4H1253.8M1231.8 524.8H1253.8M1231.8 524.5H1253.8M1231.8 569.5H1253.8M1231.8 747.3H1253.8M1231.8 514.0H1253.8M1231.8 638.6H1253.8M1231.8 990.0H1253.8M1231.8 690.7H1253.8M1231.8 584.7H1253.8M1231.8 568.0H1253.8M1231.8 826.7H1253.8M1231.8 648.5H1253.8M1231.8 674.5H1253.8M1231.8 1068.2H1253.8M1231.8 754.4H1253.8M1231.8 843.4H1253.8M1231.8 533.3H1253.8M1231.8 1025.1H1253.8M1231.8 854.1H1253.8M1231.8 526.2H1253.8M1231.8 507.6H1253.8M1231.8 744.4H1253.8M1231.8 756.7H1253.8M1231.8 550.5H1253.8" stroke="#4fa7a0" stroke-width="1.6" opacity="0.7" fill="none"/>
<path d="M1231.8 997.9H1253.8M1231.8 646.8H1253.8M1231.8 887.6H1253.8M1231.8 1080.1H1253.8M1231.8 958.8H1253.8M1231.8 992.1H1253.8M1231.8 575.8H1253.8M1231.8 715.1H1253.8M1231.8 942.4H1253.8M1231.8 614.2H1253.8M1231.8 662.0H1253.8M1231.8 1067.2H1253.8M1231.8 617.3H1253.8M1231.8 899.9H1253.8M1231.8 1068.3H1253.8M1231.8 870.5H1253.8M1231.8 814.3H1253.8M1231.8 867.1H1253.8M1231.8 916.2H1253.8M1231.8 960.1H1253.8M1231.8 879.9H1253.8M1231.8 816.8H1253.8M1231.8 936.4H1253.8" stroke="#4fa7a0" stroke-width="1.2" opacity="0.7" fill="none"/>
<path d="M1231.8 592.3H1253.8M1231.8 522.7H1253.8M1231.8 622.8H1253.8M1231.8 595.1H1253.8M1231.8 599.5H1253.8M1231.8 528.9H1253.8M1231.8 934.1H1253.8M1231.8 655.9H1253.8M1231.8 839.7H1253.8M1231.8 1046.1H1253.8M1231.8 833.7H1253.8M1231.8 562.8H1253.8M1231.8 578.9H1253.8M1231.8 603.0H1253.8M1231.8 523.1H1253.8M1231.8 1054.6H1253.8M1231.8 918.7H1253.8M1231.8 1071.7H1253.8M1231.8 509.3H1253.8M1231.8 939.0H1253.8" stroke="#4fa7a0" stroke-width="1" opacity="0.7" fill="none"/>
<path d="M1231.8 995.6H1253.8M1231.8 768.2H1253.8M1231.8 957.7H1253.8M1231.8 796.8H1253.8M1231.8 524.3H1253.8M1231.8 576.9H1253.8M1231.8 684.7H1253.8M1231.8 1085.9H1253.8M1231.8 903.7H1253.8M1231.8 649.4H1253.8M1231.8 931.3H1253.8M1231.8 671.4H1253.8M1231.8 556.6H1253.8M1231.8 585.4H1253.8M1231.8 805.0H1253.8M1231.8 798.3H1253.8M1231.8 537.8H1253.8M1231.8 528.8H1253.8M1231.8 960.6H1253.8M1231.8 996.7H1253.8M1231.8 654.0H1253.8M1231.8 1024.3H1253.8M1231.8 874.1H1253.8M1231.8 1032.2H1253.8" stroke="#4fa7a0" stroke-width="2.0" opacity="0.7" fill="none"/>
<path d="M1231.8 735.7H1253.8M1231.8 801.0H1253.8M1231.8 515.5H1253.8M1231.8 907.4H1253.8M1231.8 1047.4H1253.8M1231.8 687.9H1253.8M1231.8 905.2H1253.8M1231.8 694.8H1253.8M1231.8 862.1H1253.8M1231.8 714.4H1253.8M1231.8 860.4H1253.8M1231.8 513.4H1253.8M1231.8 593.6H1253.8M1231.8 977.4H1253.8M1231.8 597.4H1253.8M1231.8 640.0H1253.8M1231.8 1036.3H1253.8M1231.8 1036.6H1253.8M1231.8 603.4H1253.8" stroke="#4fa7a0" stroke-width="0.7" opacity="0.7" fill="none"/>
<path d="M1231.8 613.1H1253.8M1231.8 964.3H1253.8M1231.8 872.0H1253.8" stroke="#8cc9c4" stroke-width="1.2" opacity="0.75" fill="none"/>
<path d="M1231.8 693.5H1253.8M1231.8 832.6H1253.8M1231.8 948.1H1253.8M1231.8 645.3H1253.8" stroke="#8cc9c4" stroke-width="0.9" opacity="0.75" fill="none"/>
<path d="M1231.8 723.4H1253.8M1231.8 1042.2H1253.8M1231.8 757.3H1253.8M1231.8 1074.9H1253.8M1231.8 581.7H1253.8M1231.8 873.0H1253.8M1231.8 1017.5H1253.8M1231.8 1058.4H1253.8M1231.8 551.7H1253.8M1231.8 965.9H1253.8" stroke="#8cc9c4" stroke-width="2.0" opacity="0.75" fill="none"/>
<path d="M1231.8 995.0H1253.8M1231.8 776.3H1253.8M1231.8 566.1H1253.8M1231.8 539.0H1253.8M1231.8 980.9H1253.8M1231.8 1035.5H1253.8" stroke="#8cc9c4" stroke-width="1.6" opacity="0.75" fill="none"/>
<path d="M1231.8 910.4H1253.8M1231.8 866.3H1253.8M1231.8 585.3H1253.8M1231.8 517.2H1253.8M1231.8 540.2H1253.8M1231.8 1024.3H1253.8M1231.8 1055.5H1253.8M1231.8 566.1H1253.8M1231.8 559.0H1253.8M1231.8 1047.1H1253.8" stroke="#8cc9c4" stroke-width="0.7" opacity="0.75" fill="none"/>
<path d="M1231.8 637.8H1253.8M1231.8 1046.4H1253.8M1231.8 620.8H1253.8M1231.8 698.1H1253.8M1231.8 512.6H1253.8M1231.8 921.1H1253.8M1231.8 796.4H1253.8" stroke="#8cc9c4" stroke-width="1" opacity="0.75" fill="none"/>
<rect x="1263.2" y="499.3" width="46.4" height="589.9" fill="#e2ebc1"/>
<rect x="1309.3" y="499.3" width="46.3" height="589.9" fill="#e3ecc4"/>
<rect x="1355.3" y="499.3" width="46.4" height="589.9" fill="#e1ebc1"/>
<defs><linearGradient id="h1c3" x1="0" y1="0" x2="0" y2="1"><stop offset="0" stop-color="#e0eac0"/><stop offset="0.15" stop-color="#d3e3bb"/><stop offset="0.35" stop-color="#c2ddb7"/><stop offset="0.55" stop-color="#b6d8b4"/><stop offset="0.75" stop-color="#a9d2b2"/><stop offset="0.9" stop-color="#97cab0"/><stop offset="0.97" stop-color="#7abfb0"/><stop offset="1" stop-color="#64b8b3"/></linearGradient></defs>
<rect x="1401.4" y="499.3" width="46.3" height="589.9" fill="url(#h1c3)"/>
<rect x="1447.4" y="499.3" width="46.4" height="589.9" fill="#2a4a9b"/>
<path d="M1263.2 863.8H1309.3M1263.2 964.2H1309.3M1263.2 756.9H1309.3M1263.2 627.6H1309.3M1263.2 600.5H1309.3M1263.2 948.4H1309.3M1263.2 793.3H1309.3M1263.2 1052.2H1309.3M1263.2 830.3H1309.3M1263.2 1066.1H1309.3M1263.2 661.3H1309.3M1263.2 875.4H1309.3M1263.2 773.0H1309.3" stroke="#fdfde0" stroke-width="0.7" opacity="0.26" fill="none"/>
<path d="M1263.2 704.2H1309.3M1263.2 556.6H1309.3M1263.2 788.5H1309.3M1263.2 1024.6H1309.3M1263.2 551.0H1309.3M1263.2 600.9H1309.3M1263.2 889.5H1309.3M1263.2 696.7H1309.3M1263.2 677.6H1309.3M1263.2 1073.4H1309.3M1263.2 652.4H1309.3M1263.2 651.5H1309.3M1263.2 738.2H1309.3M1263.2 997.7H1309.3" stroke="#fdfde0" stroke-width="2.0" opacity="0.26" fill="none"/>
<path d="M1263.2 528.6H1309.3M1263.2 1068.9H1309.3M1263.2 704.4H1309.3M1263.2 1030.1H1309.3M1263.2 574.9H1309.3M1263.2 943.9H1309.3M1263.2 842.2H1309.3M1263.2 986.2H1309.3M1263.2 692.3H1309.3M1263.2 908.0H1309.3M1263.2 912.5H1309.3" stroke="#fdfde0" stroke-width="1.6" opacity="0.26" fill="none"/>
<path d="M1263.2 838.1H1309.3M1263.2 808.1H1309.3M1263.2 869.5H1309.3M1263.2 880.3H1309.3M1263.2 758.3H1309.3M1263.2 798.8H1309.3M1263.2 1078.7H1309.3M1263.2 1077.0H1309.3" stroke="#fdfde0" stroke-width="1" opacity="0.26" fill="none"/>
<path d="M1263.2 502.9H1309.3M1263.2 556.2H1309.3M1263.2 678.5H1309.3M1263.2 637.6H1309.3M1263.2 591.6H1309.3M1263.2 690.4H1309.3M1263.2 931.4H1309.3M1263.2 665.4H1309.3M1263.2 734.9H1309.3M1263.2 642.7H1309.3M1263.2 940.7H1309.3" stroke="#fdfde0" stroke-width="1.2" opacity="0.26" fill="none"/>
<path d="M1263.2 968.7H1309.3M1263.2 653.5H1309.3M1263.2 667.1H1309.3M1263.2 1051.9H1309.3M1263.2 515.1H1309.3M1263.2 840.8H1309.3M1263.2 1020.7H1309.3M1263.2 591.2H1309.3M1263.2 705.3H1309.3M1263.2 693.2H1309.3M1263.2 1085.2H1309.3M1263.2 615.2H1309.3M1263.2 772.7H1309.3" stroke="#fdfde0" stroke-width="0.9" opacity="0.26" fill="none"/>
<path d="M1263.2 924.9H1309.3M1263.2 899.8H1309.3M1263.2 684.3H1309.3M1263.2 919.6H1309.3M1263.2 805.0H1309.3M1263.2 628.4H1309.3M1263.2 818.4H1309.3M1263.2 623.8H1309.3M1263.2 869.8H1309.3M1263.2 976.2H1309.3M1263.2 613.9H1309.3M1263.2 707.9H1309.3M1263.2 947.0H1309.3" stroke="#9cc7a0" stroke-width="2.0" opacity="0.16" fill="none"/>
<path d="M1263.2 911.9H1309.3M1263.2 1047.2H1309.3M1263.2 959.9H1309.3M1263.2 772.0H1309.3M1263.2 830.7H1309.3M1263.2 979.2H1309.3" stroke="#9cc7a0" stroke-width="0.9" opacity="0.16" fill="none"/>
<path d="M1263.2 573.3H1309.3M1263.2 912.2H1309.3M1263.2 642.8H1309.3M1263.2 592.3H1309.3M1263.2 865.7H1309.3M1263.2 957.8H1309.3M1263.2 998.3H1309.3M1263.2 807.0H1309.3M1263.2 936.6H1309.3M1263.2 648.7H1309.3M1263.2 544.5H1309.3M1263.2 1071.4H1309.3M1263.2 988.7H1309.3M1263.2 573.9H1309.3" stroke="#9cc7a0" stroke-width="1.2" opacity="0.16" fill="none"/>
<path d="M1263.2 784.1H1309.3M1263.2 989.4H1309.3M1263.2 805.5H1309.3M1263.2 780.0H1309.3M1263.2 948.7H1309.3M1263.2 709.3H1309.3M1263.2 735.3H1309.3M1263.2 576.3H1309.3" stroke="#9cc7a0" stroke-width="0.7" opacity="0.16" fill="none"/>
<path d="M1263.2 1026.2H1309.3M1263.2 876.1H1309.3M1263.2 707.3H1309.3M1263.2 564.5H1309.3M1263.2 775.5H1309.3" stroke="#9cc7a0" stroke-width="1" opacity="0.16" fill="none"/>
<path d="M1263.2 522.7H1309.3M1263.2 608.4H1309.3M1263.2 928.9H1309.3M1263.2 936.2H1309.3" stroke="#9cc7a0" stroke-width="1.6" opacity="0.16" fill="none"/>
<path d="M1309.3 708.9H1355.3M1309.3 1032.8H1355.3M1309.3 886.7H1355.3M1309.3 560.0H1355.3M1309.3 1002.5H1355.3M1309.3 961.7H1355.3M1309.3 746.7H1355.3M1309.3 945.4H1355.3M1309.3 744.6H1355.3M1309.3 953.3H1355.3M1309.3 703.0H1355.3M1309.3 919.6H1355.3" stroke="#fdfde0" stroke-width="0.9" opacity="0.26" fill="none"/>
<path d="M1309.3 657.5H1355.3M1309.3 904.5H1355.3M1309.3 899.4H1355.3M1309.3 688.6H1355.3M1309.3 936.5H1355.3M1309.3 534.7H1355.3M1309.3 789.2H1355.3M1309.3 800.5H1355.3M1309.3 715.6H1355.3M1309.3 672.5H1355.3" stroke="#fdfde0" stroke-width="1.2" opacity="0.26" fill="none"/>
<path d="M1309.3 501.9H1355.3M1309.3 752.2H1355.3M1309.3 1059.8H1355.3M1309.3 599.0H1355.3M1309.3 616.3H1355.3M1309.3 1032.6H1355.3M1309.3 750.6H1355.3M1309.3 544.6H1355.3M1309.3 712.2H1355.3M1309.3 527.3H1355.3M1309.3 520.2H1355.3M1309.3 699.4H1355.3M1309.3 845.1H1355.3" stroke="#fdfde0" stroke-width="2.0" opacity="0.26" fill="none"/>
<path d="M1309.3 970.0H1355.3M1309.3 644.3H1355.3M1309.3 550.5H1355.3M1309.3 590.1H1355.3M1309.3 812.3H1355.3M1309.3 956.7H1355.3M1309.3 963.6H1355.3M1309.3 826.6H1355.3M1309.3 594.6H1355.3M1309.3 792.8H1355.3M1309.3 994.5H1355.3M1309.3 1047.9H1355.3M1309.3 667.4H1355.3M1309.3 531.3H1355.3M1309.3 694.8H1355.3" stroke="#fdfde0" stroke-width="1" opacity="0.26" fill="none"/>
<path d="M1309.3 1002.6H1355.3M1309.3 872.5H1355.3M1309.3 858.0H1355.3M1309.3 625.6H1355.3M1309.3 894.9H1355.3M1309.3 1007.6H1355.3M1309.3 975.7H1355.3M1309.3 885.1H1355.3" stroke="#fdfde0" stroke-width="0.7" opacity="0.26" fill="none"/>
<path d="M1309.3 550.4H1355.3M1309.3 672.6H1355.3M1309.3 1031.8H1355.3M1309.3 893.3H1355.3M1309.3 778.5H1355.3M1309.3 597.1H1355.3M1309.3 775.4H1355.3M1309.3 517.1H1355.3M1309.3 958.0H1355.3M1309.3 748.6H1355.3M1309.3 737.7H1355.3M1309.3 1079.0H1355.3" stroke="#fdfde0" stroke-width="1.6" opacity="0.26" fill="none"/>
<path d="M1309.3 551.8H1355.3M1309.3 676.9H1355.3M1309.3 549.1H1355.3M1309.3 608.9H1355.3M1309.3 1049.3H1355.3M1309.3 523.5H1355.3M1309.3 762.8H1355.3M1309.3 893.8H1355.3M1309.3 628.6H1355.3M1309.3 576.1H1355.3M1309.3 937.8H1355.3M1309.3 929.3H1355.3" stroke="#9cc7a0" stroke-width="0.7" opacity="0.16" fill="none"/>
<path d="M1309.3 734.8H1355.3M1309.3 1020.9H1355.3M1309.3 535.7H1355.3M1309.3 1035.2H1355.3M1309.3 962.7H1355.3M1309.3 833.2H1355.3M1309.3 792.9H1355.3M1309.3 900.1H1355.3M1309.3 952.9H1355.3M1309.3 662.2H1355.3M1309.3 672.6H1355.3" stroke="#9cc7a0" stroke-width="1.6" opacity="0.16" fill="none"/>
<path d="M1309.3 837.8H1355.3M1309.3 527.6H1355.3M1309.3 892.4H1355.3M1309.3 1011.3H1355.3M1309.3 687.5H1355.3M1309.3 955.2H1355.3M1309.3 838.5H1355.3M1309.3 1076.9H1355.3M1309.3 868.9H1355.3M1309.3 917.3H1355.3" stroke="#9cc7a0" stroke-width="1.2" opacity="0.16" fill="none"/>
<path d="M1309.3 858.1H1355.3M1309.3 868.8H1355.3M1309.3 905.4H1355.3M1309.3 955.6H1355.3M1309.3 848.3H1355.3M1309.3 560.3H1355.3M1309.3 503.1H1355.3M1309.3 642.7H1355.3M1309.3 715.4H1355.3" stroke="#9cc7a0" stroke-width="2.0" opacity="0.16" fill="none"/>
<path d="M1309.3 721.4H1355.3M1309.3 867.9H1355.3M1309.3 559.9H1355.3M1309.3 508.2H1355.3M1309.3 777.9H1355.3M1309.3 919.8H1355.3" stroke="#9cc7a0" stroke-width="0.9" opacity="0.16" fill="none"/>
<path d="M1309.3 917.8H1355.3M1309.3 893.9H1355.3" stroke="#9cc7a0" stroke-width="1" opacity="0.16" fill="none"/>
<path d="M1355.3 1037.4H1401.4M1355.3 921.9H1401.4M1355.3 1068.4H1401.4M1355.3 926.9H1401.4M1355.3 592.8H1401.4M1355.3 704.2H1401.4M1355.3 682.2H1401.4M1355.3 845.0H1401.4M1355.3 974.5H1401.4M1355.3 625.3H1401.4M1355.3 720.2H1401.4M1355.3 686.0H1401.4M1355.3 857.2H1401.4" stroke="#fdfde0" stroke-width="0.7" opacity="0.26" fill="none"/>
<path d="M1355.3 535.9H1401.4M1355.3 713.9H1401.4M1355.3 535.9H1401.4M1355.3 721.7H1401.4M1355.3 963.4H1401.4M1355.3 606.5H1401.4" stroke="#fdfde0" stroke-width="2.0" opacity="0.26" fill="none"/>
<path d="M1355.3 904.0H1401.4M1355.3 684.0H1401.4M1355.3 716.4H1401.4M1355.3 1055.8H1401.4M1355.3 913.7H1401.4M1355.3 695.5H1401.4M1355.3 989.0H1401.4M1355.3 989.8H1401.4M1355.3 977.5H1401.4M1355.3 586.7H1401.4M1355.3 818.1H1401.4M1355.3 637.2H1401.4M1355.3 1020.6H1401.4M1355.3 689.0H1401.4M1355.3 670.7H1401.4M1355.3 703.1H1401.4M1355.3 520.0H1401.4M1355.3 786.2H1401.4M1355.3 951.4H1401.4" stroke="#fdfde0" stroke-width="1.6" opacity="0.26" fill="none"/>
<path d="M1355.3 547.1H1401.4M1355.3 858.3H1401.4M1355.3 696.6H1401.4M1355.3 975.0H1401.4M1355.3 905.1H1401.4M1355.3 916.7H1401.4M1355.3 806.6H1401.4M1355.3 625.9H1401.4M1355.3 1066.7H1401.4M1355.3 996.3H1401.4" stroke="#fdfde0" stroke-width="1" opacity="0.26" fill="none"/>
<path d="M1355.3 597.9H1401.4M1355.3 928.2H1401.4M1355.3 596.7H1401.4M1355.3 780.7H1401.4M1355.3 654.9H1401.4M1355.3 902.8H1401.4M1355.3 817.8H1401.4M1355.3 898.7H1401.4M1355.3 965.7H1401.4M1355.3 832.1H1401.4M1355.3 645.1H1401.4M1355.3 718.8H1401.4M1355.3 750.7H1401.4" stroke="#fdfde0" stroke-width="1.2" opacity="0.26" fill="none"/>
<path d="M1355.3 898.2H1401.4M1355.3 752.3H1401.4M1355.3 721.5H1401.4M1355.3 669.9H1401.4M1355.3 969.1H1401.4M1355.3 1048.1H1401.4M1355.3 846.8H1401.4M1355.3 958.6H1401.4M1355.3 963.2H1401.4" stroke="#fdfde0" stroke-width="0.9" opacity="0.26" fill="none"/>
<path d="M1355.3 618.5H1401.4M1355.3 798.1H1401.4M1355.3 763.9H1401.4M1355.3 718.4H1401.4M1355.3 1083.3H1401.4M1355.3 533.1H1401.4M1355.3 640.5H1401.4M1355.3 775.4H1401.4M1355.3 969.9H1401.4M1355.3 1045.7H1401.4M1355.3 689.9H1401.4M1355.3 825.6H1401.4M1355.3 758.4H1401.4" stroke="#9cc7a0" stroke-width="0.9" opacity="0.16" fill="none"/>
<path d="M1355.3 722.6H1401.4M1355.3 769.7H1401.4M1355.3 733.9H1401.4M1355.3 915.6H1401.4M1355.3 637.4H1401.4M1355.3 1053.6H1401.4M1355.3 1031.0H1401.4M1355.3 992.5H1401.4M1355.3 687.1H1401.4M1355.3 1037.8H1401.4M1355.3 630.6H1401.4" stroke="#9cc7a0" stroke-width="0.7" opacity="0.16" fill="none"/>
<path d="M1355.3 530.3H1401.4M1355.3 651.5H1401.4M1355.3 651.9H1401.4M1355.3 940.2H1401.4M1355.3 546.0H1401.4" stroke="#9cc7a0" stroke-width="1.6" opacity="0.16" fill="none"/>
<path d="M1355.3 717.6H1401.4M1355.3 1007.6H1401.4M1355.3 1062.6H1401.4M1355.3 917.5H1401.4M1355.3 1052.6H1401.4M1355.3 848.0H1401.4M1355.3 1009.9H1401.4M1355.3 995.5H1401.4M1355.3 781.0H1401.4" stroke="#9cc7a0" stroke-width="2.0" opacity="0.16" fill="none"/>
<path d="M1355.3 601.5H1401.4M1355.3 562.3H1401.4M1355.3 544.5H1401.4M1355.3 715.5H1401.4" stroke="#9cc7a0" stroke-width="1" opacity="0.16" fill="none"/>
<path d="M1355.3 948.1H1401.4M1355.3 718.8H1401.4M1355.3 573.3H1401.4M1355.3 723.5H1401.4M1355.3 582.5H1401.4M1355.3 1063.5H1401.4M1355.3 606.3H1401.4M1355.3 656.9H1401.4" stroke="#9cc7a0" stroke-width="1.2" opacity="0.16" fill="none"/>
<path d="M1401.4 645.4H1447.4M1401.4 653.5H1447.4M1401.4 1044.2H1447.4M1401.4 1027.2H1447.4M1401.4 853.4H1447.4M1401.4 994.8H1447.4" stroke="#8cbf9c" stroke-width="0.7" opacity="0.12" fill="none"/>
<path d="M1401.4 659.7H1447.4M1401.4 781.0H1447.4M1401.4 989.6H1447.4M1401.4 668.7H1447.4M1401.4 791.6H1447.4M1401.4 805.1H1447.4" stroke="#8cbf9c" stroke-width="1" opacity="0.12" fill="none"/>
<path d="M1401.4 697.0H1447.4M1401.4 570.4H1447.4M1401.4 1082.9H1447.4M1401.4 700.7H1447.4M1401.4 606.5H1447.4M1401.4 807.0H1447.4M1401.4 918.7H1447.4M1401.4 603.4H1447.4M1401.4 869.8H1447.4M1401.4 843.0H1447.4" stroke="#8cbf9c" stroke-width="0.9" opacity="0.12" fill="none"/>
<path d="M1401.4 687.3H1447.4M1401.4 1071.0H1447.4M1401.4 729.7H1447.4M1401.4 756.2H1447.4M1401.4 931.1H1447.4M1401.4 1008.5H1447.4M1401.4 553.4H1447.4" stroke="#8cbf9c" stroke-width="1.2" opacity="0.12" fill="none"/>
<path d="M1401.4 567.4H1447.4M1401.4 1044.2H1447.4M1401.4 509.7H1447.4M1401.4 760.7H1447.4M1401.4 628.6H1447.4" stroke="#8cbf9c" stroke-width="1.6" opacity="0.12" fill="none"/>
<path d="M1401.4 533.7H1447.4M1401.4 585.2H1447.4M1401.4 1023.1H1447.4M1401.4 860.3H1447.4M1401.4 506.2H1447.4M1401.4 697.4H1447.4" stroke="#8cbf9c" stroke-width="2.0" opacity="0.12" fill="none"/>
<defs><linearGradient id="h1kd" x1="0" y1="0" x2="0" y2="1"><stop offset="0" stop-color="#b2d5a6"/><stop offset="0.02" stop-color="#b9d8a8"/><stop offset="0.04" stop-color="#cfe2b0"/><stop offset="0.08" stop-color="#e3ecb4"/><stop offset="0.15" stop-color="#edf0b2"/><stop offset="0.25" stop-color="#f2f1ac"/><stop offset="0.35" stop-color="#f6eea2"/><stop offset="0.45" stop-color="#f9e898"/><stop offset="0.55" stop-color="#fbdf8e"/><stop offset="0.65" stop-color="#fbd688"/><stop offset="0.75" stop-color="#fbce83"/><stop offset="0.85" stop-color="#f9c37b"/><stop offset="0.95" stop-color="#f6b16c"/><stop offset="1" stop-color="#f4a763"/></linearGradient></defs>
<rect x="1502.5" y="499.3" width="23.4" height="589.9" fill="url(#h1kd)"/>
<path d="M1251.2 426.6H1257.0M1251.2 449.5H1257.0M1251.2 471.9H1257.0M1251.2 494.6H1257.0M1257.0 423.0V495.4" stroke="#111" stroke-width="1.7" fill="none"/>
<text x="1251.2" y="431.8" font-size="18.5" text-anchor="end" fill="#111">1000</text>
<text x="1251.2" y="454.7" font-size="18.5" text-anchor="end" fill="#111">100</text>
<text x="1251.2" y="477.1" font-size="18.5" text-anchor="end" fill="#111">10</text>
<text x="1251.2" y="499.8" font-size="18.5" text-anchor="end" fill="#111">1</text>
<line x1="1309.2" y1="494.6" x2="1345.4" y2="494.6" stroke="#111" stroke-width="1.7"/>
<rect x="1356.0" y="471.9" width="36.2" height="22.7" fill="#808285" stroke="#111" stroke-width="1.7"/>
<rect x="1402.9" y="449.5" width="36.2" height="45.1" fill="#808285" stroke="#111" stroke-width="1.7"/>
<rect x="1449.8" y="427.0" width="36.2" height="67.6" fill="#808285" stroke="#111" stroke-width="1.7"/>
<text x="1497.0" y="442.5" font-size="19.6" text-anchor="start" fill="#111">FLAG−YY1</text>
<text x="1497.0" y="466.4" font-size="19.6" text-anchor="start" fill="#111">(nM)</text>
<text x="1497.0" y="490.2" font-size="19.6" text-anchor="start" fill="#111">CUT&amp;RUN</text>
<text x="1246.6" y="1098.2" font-size="22" text-anchor="end" fill="#111" transform="rotate(-90 1246.6 1098.2)">Overlap</text>
<text x="1289.4" y="1098.2" font-size="22" text-anchor="end" fill="#111" transform="rotate(-90 1289.4 1098.2)">0 nM</text>
<text x="1336.4" y="1098.2" font-size="22" text-anchor="end" fill="#111" transform="rotate(-90 1336.4 1098.2)">1 nM</text>
<text x="1383.3" y="1098.2" font-size="22" text-anchor="end" fill="#111" transform="rotate(-90 1383.3 1098.2)">10 nM</text>
<text x="1430.3" y="1098.2" font-size="22" text-anchor="end" fill="#111" transform="rotate(-90 1430.3 1098.2)">100 nM</text>
<text x="1477.3" y="1098.2" font-size="22" text-anchor="end" fill="#111" transform="rotate(-90 1477.3 1098.2)">1000 nM</text>
<g transform="rotate(-90 1520.5 1098.2)">
<text x="1476.1" y="1097.2" font-size="22" text-anchor="start" fill="#111">K</text>
<text x="1490.8" y="1104.2" font-size="12.5" text-anchor="start" fill="#111">d</text>
<text x="1498.3" y="1090.2" font-size="12.5" text-anchor="start" fill="#111">App</text>
</g>
<text x="1215.5" y="790.8" font-size="26.6" text-anchor="middle" fill="#111" transform="rotate(-90 1215.5 790.8)" textLength="99.5" lengthAdjust="spacingAndGlyphs" class="pn">n = 5773</text>
<rect x="1650.1" y="499.3" width="22.1" height="589.9" fill="#1c8777"/>
<path d="M1650.1 1035.4H1672.2M1650.1 805.9H1672.2M1650.1 958.3H1672.2M1650.1 1061.2H1672.2M1650.1 874.7H1672.2M1650.1 572.6H1672.2M1650.1 893.5H1672.2M1650.1 1051.5H1672.2M1650.1 541.0H1672.2M1650.1 747.6H1672.2M1650.1 956.9H1672.2M1650.1 1048.2H1672.2M1650.1 1020.7H1672.2M1650.1 678.8H1672.2M1650.1 804.2H1672.2M1650.1 1042.4H1672.2M1650.1 844.7H1672.2M1650.1 565.6H1672.2M1650.1 826.8H1672.2M1650.1 963.0H1672.2M1650.1 972.4H1672.2" stroke="#5db3a2" stroke-width="1.2" opacity="0.7" fill="none"/>
<path d="M1650.1 578.7H1672.2M1650.1 521.9H1672.2M1650.1 571.3H1672.2M1650.1 511.7H1672.2M1650.1 807.7H1672.2M1650.1 1011.5H1672.2M1650.1 586.5H1672.2M1650.1 1012.1H1672.2M1650.1 618.3H1672.2M1650.1 520.5H1672.2M1650.1 865.3H1672.2M1650.1 866.8H1672.2M1650.1 806.6H1672.2M1650.1 745.3H1672.2M1650.1 707.5H1672.2M1650.1 556.2H1672.2M1650.1 658.3H1672.2M1650.1 916.9H1672.2" stroke="#5db3a2" stroke-width="2.0" opacity="0.7" fill="none"/>
<path d="M1650.1 656.8H1672.2M1650.1 579.3H1672.2M1650.1 1069.0H1672.2M1650.1 864.3H1672.2M1650.1 738.8H1672.2M1650.1 818.7H1672.2M1650.1 1006.5H1672.2M1650.1 939.2H1672.2M1650.1 1049.6H1672.2M1650.1 564.4H1672.2M1650.1 512.5H1672.2M1650.1 704.6H1672.2M1650.1 573.2H1672.2M1650.1 908.8H1672.2M1650.1 882.6H1672.2M1650.1 595.7H1672.2M1650.1 1016.7H1672.2M1650.1 934.5H1672.2" stroke="#5db3a2" stroke-width="0.9" opacity="0.7" fill="none"/>
<path d="M1650.1 831.4H1672.2M1650.1 1004.8H1672.2M1650.1 644.2H1672.2M1650.1 560.7H1672.2M1650.1 934.6H1672.2M1650.1 761.5H1672.2M1650.1 605.5H1672.2M1650.1 844.8H1672.2M1650.1 957.0H1672.2M1650.1 735.9H1672.2M1650.1 973.2H1672.2M1650.1 872.3H1672.2M1650.1 865.5H1672.2M1650.1 669.3H1672.2M1650.1 839.7H1672.2M1650.1 935.6H1672.2M1650.1 822.8H1672.2M1650.1 776.0H1672.2M1650.1 518.5H1672.2M1650.1 733.4H1672.2M1650.1 690.8H1672.2M1650.1 789.2H1672.2M1650.1 856.5H1672.2M1650.1 588.3H1672.2M1650.1 907.5H1672.2M1650.1 925.4H1672.2M1650.1 724.1H1672.2M1650.1 608.6H1672.2M1650.1 636.7H1672.2M1650.1 993.1H1672.2" stroke="#5db3a2" stroke-width="1" opacity="0.7" fill="none"/>
<path d="M1650.1 718.5H1672.2M1650.1 812.2H1672.2M1650.1 510.7H1672.2M1650.1 908.2H1672.2M1650.1 994.0H1672.2M1650.1 921.0H1672.2M1650.1 979.5H1672.2M1650.1 531.8H1672.2M1650.1 571.1H1672.2M1650.1 1064.1H1672.2M1650.1 774.5H1672.2M1650.1 994.0H1672.2M1650.1 771.3H1672.2M1650.1 630.6H1672.2M1650.1 821.2H1672.2M1650.1 619.3H1672.2M1650.1 1000.0H1672.2M1650.1 502.8H1672.2M1650.1 734.0H1672.2M1650.1 1013.4H1672.2M1650.1 707.8H1672.2M1650.1 838.6H1672.2M1650.1 690.7H1672.2" stroke="#5db3a2" stroke-width="1.6" opacity="0.7" fill="none"/>
<path d="M1650.1 1069.8H1672.2M1650.1 839.1H1672.2M1650.1 671.7H1672.2M1650.1 762.8H1672.2M1650.1 826.8H1672.2M1650.1 565.0H1672.2M1650.1 1057.7H1672.2M1650.1 521.6H1672.2M1650.1 872.6H1672.2M1650.1 819.1H1672.2M1650.1 571.8H1672.2M1650.1 755.3H1672.2M1650.1 1030.2H1672.2M1650.1 643.4H1672.2M1650.1 674.0H1672.2M1650.1 593.5H1672.2M1650.1 759.0H1672.2M1650.1 708.5H1672.2M1650.1 575.1H1672.2M1650.1 881.4H1672.2" stroke="#5db3a2" stroke-width="0.7" opacity="0.7" fill="none"/>
<path d="M1650.1 620.4H1672.2M1650.1 832.4H1672.2M1650.1 864.8H1672.2M1650.1 927.8H1672.2M1650.1 635.1H1672.2M1650.1 720.4H1672.2M1650.1 1067.3H1672.2M1650.1 1022.4H1672.2" stroke="#0f6e66" stroke-width="1.2" opacity="0.75" fill="none"/>
<path d="M1650.1 1024.3H1672.2M1650.1 706.7H1672.2M1650.1 939.1H1672.2M1650.1 715.9H1672.2M1650.1 742.7H1672.2M1650.1 742.2H1672.2" stroke="#0f6e66" stroke-width="0.7" opacity="0.75" fill="none"/>
<path d="M1650.1 515.3H1672.2M1650.1 729.3H1672.2M1650.1 600.7H1672.2M1650.1 825.4H1672.2" stroke="#0f6e66" stroke-width="1" opacity="0.75" fill="none"/>
<path d="M1650.1 676.6H1672.2M1650.1 955.0H1672.2M1650.1 804.5H1672.2M1650.1 898.0H1672.2M1650.1 881.6H1672.2M1650.1 736.4H1672.2M1650.1 1028.9H1672.2M1650.1 702.1H1672.2M1650.1 985.9H1672.2M1650.1 702.2H1672.2M1650.1 871.3H1672.2M1650.1 670.7H1672.2M1650.1 870.7H1672.2M1650.1 563.0H1672.2" stroke="#0f6e66" stroke-width="1.6" opacity="0.75" fill="none"/>
<path d="M1650.1 524.2H1672.2M1650.1 603.5H1672.2M1650.1 1026.2H1672.2M1650.1 1084.5H1672.2M1650.1 925.3H1672.2M1650.1 680.6H1672.2" stroke="#0f6e66" stroke-width="2.0" opacity="0.75" fill="none"/>
<path d="M1650.1 591.0H1672.2M1650.1 622.5H1672.2" stroke="#0f6e66" stroke-width="0.9" opacity="0.75" fill="none"/>
<rect x="1681.7" y="499.3" width="46.0" height="589.9" fill="#d3e7d1"/>
<rect x="1727.4" y="499.3" width="46.1" height="589.9" fill="#d5e8d3"/>
<rect x="1773.2" y="499.3" width="46.0" height="589.9" fill="#d4e7d1"/>
<defs><linearGradient id="h2c3" x1="0" y1="0" x2="0" y2="1"><stop offset="0" stop-color="#d9ead6"/><stop offset="0.3" stop-color="#cfe5cc"/><stop offset="0.7" stop-color="#c0ddbf"/><stop offset="0.95" stop-color="#b3d6b3"/><stop offset="1" stop-color="#acd2ac"/></linearGradient></defs>
<rect x="1818.9" y="499.3" width="46.0" height="589.9" fill="url(#h2c3)"/>
<rect x="1864.6" y="499.3" width="46.0" height="589.9" fill="#056b38"/>
<path d="M1681.7 734.0H1727.4M1681.7 563.0H1727.4M1681.7 860.7H1727.4M1681.7 949.5H1727.4M1681.7 1076.2H1727.4M1681.7 737.3H1727.4M1681.7 1013.2H1727.4" stroke="#eaf5e6" stroke-width="0.7" opacity="0.26" fill="none"/>
<path d="M1681.7 844.9H1727.4M1681.7 833.7H1727.4M1681.7 882.5H1727.4M1681.7 519.6H1727.4M1681.7 734.6H1727.4M1681.7 520.8H1727.4M1681.7 1004.9H1727.4M1681.7 577.3H1727.4" stroke="#eaf5e6" stroke-width="2.0" opacity="0.26" fill="none"/>
<path d="M1681.7 517.7H1727.4M1681.7 571.7H1727.4M1681.7 584.9H1727.4M1681.7 708.3H1727.4M1681.7 537.4H1727.4M1681.7 511.8H1727.4M1681.7 640.4H1727.4M1681.7 785.1H1727.4M1681.7 551.7H1727.4M1681.7 711.0H1727.4M1681.7 515.2H1727.4M1681.7 642.5H1727.4M1681.7 820.6H1727.4M1681.7 992.0H1727.4M1681.7 797.1H1727.4M1681.7 800.2H1727.4" stroke="#eaf5e6" stroke-width="0.9" opacity="0.26" fill="none"/>
<path d="M1681.7 793.0H1727.4M1681.7 1026.8H1727.4M1681.7 1086.5H1727.4M1681.7 617.0H1727.4M1681.7 805.1H1727.4M1681.7 545.1H1727.4M1681.7 558.8H1727.4M1681.7 1023.8H1727.4M1681.7 758.8H1727.4M1681.7 526.2H1727.4M1681.7 678.8H1727.4M1681.7 897.1H1727.4M1681.7 567.8H1727.4M1681.7 721.9H1727.4M1681.7 1087.0H1727.4M1681.7 1029.2H1727.4M1681.7 1082.3H1727.4M1681.7 645.1H1727.4" stroke="#eaf5e6" stroke-width="1.6" opacity="0.26" fill="none"/>
<path d="M1681.7 788.6H1727.4M1681.7 764.8H1727.4M1681.7 503.9H1727.4M1681.7 648.4H1727.4M1681.7 643.1H1727.4M1681.7 1065.4H1727.4M1681.7 825.9H1727.4M1681.7 702.8H1727.4M1681.7 826.6H1727.4M1681.7 627.6H1727.4M1681.7 622.6H1727.4" stroke="#eaf5e6" stroke-width="1.2" opacity="0.26" fill="none"/>
<path d="M1681.7 953.3H1727.4M1681.7 1002.8H1727.4M1681.7 630.5H1727.4M1681.7 504.8H1727.4M1681.7 733.1H1727.4M1681.7 1012.6H1727.4M1681.7 985.8H1727.4M1681.7 612.7H1727.4M1681.7 554.8H1727.4M1681.7 593.9H1727.4" stroke="#eaf5e6" stroke-width="1" opacity="0.26" fill="none"/>
<path d="M1681.7 898.8H1727.4M1681.7 1024.3H1727.4M1681.7 705.5H1727.4M1681.7 668.6H1727.4M1681.7 857.4H1727.4M1681.7 940.9H1727.4" stroke="#a6cfae" stroke-width="0.7" opacity="0.16" fill="none"/>
<path d="M1681.7 819.3H1727.4M1681.7 834.0H1727.4M1681.7 830.7H1727.4M1681.7 973.7H1727.4M1681.7 734.9H1727.4M1681.7 557.7H1727.4M1681.7 753.5H1727.4M1681.7 523.4H1727.4M1681.7 565.7H1727.4M1681.7 623.8H1727.4" stroke="#a6cfae" stroke-width="1" opacity="0.16" fill="none"/>
<path d="M1681.7 933.0H1727.4M1681.7 737.4H1727.4M1681.7 706.9H1727.4M1681.7 1088.2H1727.4M1681.7 898.6H1727.4M1681.7 806.5H1727.4" stroke="#a6cfae" stroke-width="1.2" opacity="0.16" fill="none"/>
<path d="M1681.7 517.2H1727.4M1681.7 509.1H1727.4M1681.7 689.0H1727.4M1681.7 613.7H1727.4M1681.7 669.9H1727.4M1681.7 955.9H1727.4M1681.7 517.7H1727.4M1681.7 970.3H1727.4M1681.7 515.2H1727.4M1681.7 707.3H1727.4M1681.7 931.8H1727.4M1681.7 592.1H1727.4M1681.7 835.5H1727.4M1681.7 566.1H1727.4M1681.7 1073.0H1727.4M1681.7 745.6H1727.4" stroke="#a6cfae" stroke-width="2.0" opacity="0.16" fill="none"/>
<path d="M1681.7 550.9H1727.4M1681.7 956.6H1727.4M1681.7 683.3H1727.4M1681.7 1006.6H1727.4M1681.7 1051.0H1727.4M1681.7 911.4H1727.4M1681.7 523.8H1727.4M1681.7 870.4H1727.4M1681.7 832.2H1727.4" stroke="#a6cfae" stroke-width="0.9" opacity="0.16" fill="none"/>
<path d="M1681.7 568.0H1727.4M1681.7 894.3H1727.4M1681.7 1014.8H1727.4" stroke="#a6cfae" stroke-width="1.6" opacity="0.16" fill="none"/>
<path d="M1727.4 731.7H1773.2M1727.4 906.9H1773.2M1727.4 905.0H1773.2M1727.4 532.2H1773.2M1727.4 621.4H1773.2M1727.4 526.0H1773.2M1727.4 596.5H1773.2M1727.4 580.6H1773.2M1727.4 503.8H1773.2M1727.4 761.9H1773.2M1727.4 578.7H1773.2M1727.4 641.8H1773.2M1727.4 549.7H1773.2M1727.4 695.3H1773.2M1727.4 1040.9H1773.2M1727.4 1050.1H1773.2M1727.4 911.5H1773.2M1727.4 997.5H1773.2M1727.4 599.3H1773.2M1727.4 988.5H1773.2" stroke="#eaf5e6" stroke-width="2.0" opacity="0.26" fill="none"/>
<path d="M1727.4 862.1H1773.2M1727.4 801.2H1773.2M1727.4 788.1H1773.2M1727.4 742.3H1773.2M1727.4 874.5H1773.2M1727.4 640.1H1773.2M1727.4 749.9H1773.2M1727.4 898.3H1773.2M1727.4 712.2H1773.2M1727.4 1066.4H1773.2M1727.4 644.9H1773.2M1727.4 955.6H1773.2M1727.4 674.5H1773.2" stroke="#eaf5e6" stroke-width="0.9" opacity="0.26" fill="none"/>
<path d="M1727.4 665.6H1773.2M1727.4 647.1H1773.2M1727.4 988.9H1773.2M1727.4 906.0H1773.2M1727.4 679.0H1773.2M1727.4 599.1H1773.2M1727.4 831.7H1773.2M1727.4 939.7H1773.2" stroke="#eaf5e6" stroke-width="0.7" opacity="0.26" fill="none"/>
<path d="M1727.4 705.5H1773.2M1727.4 786.3H1773.2M1727.4 852.3H1773.2M1727.4 993.8H1773.2M1727.4 912.8H1773.2M1727.4 691.1H1773.2M1727.4 527.1H1773.2M1727.4 1083.6H1773.2M1727.4 879.6H1773.2M1727.4 862.9H1773.2" stroke="#eaf5e6" stroke-width="1.2" opacity="0.26" fill="none"/>
<path d="M1727.4 760.5H1773.2M1727.4 639.0H1773.2M1727.4 599.1H1773.2M1727.4 706.9H1773.2M1727.4 525.8H1773.2M1727.4 834.9H1773.2M1727.4 689.5H1773.2M1727.4 608.8H1773.2M1727.4 688.5H1773.2M1727.4 580.5H1773.2M1727.4 992.9H1773.2" stroke="#eaf5e6" stroke-width="1" opacity="0.26" fill="none"/>
<path d="M1727.4 868.3H1773.2M1727.4 985.4H1773.2M1727.4 653.9H1773.2M1727.4 583.7H1773.2M1727.4 979.7H1773.2M1727.4 787.4H1773.2M1727.4 668.4H1773.2M1727.4 1065.9H1773.2" stroke="#eaf5e6" stroke-width="1.6" opacity="0.26" fill="none"/>
<path d="M1727.4 641.0H1773.2M1727.4 737.4H1773.2M1727.4 553.0H1773.2M1727.4 719.3H1773.2M1727.4 542.6H1773.2M1727.4 1023.9H1773.2M1727.4 723.0H1773.2M1727.4 615.2H1773.2M1727.4 864.7H1773.2M1727.4 763.3H1773.2M1727.4 822.5H1773.2" stroke="#a6cfae" stroke-width="0.7" opacity="0.16" fill="none"/>
<path d="M1727.4 563.3H1773.2M1727.4 1041.8H1773.2M1727.4 749.0H1773.2M1727.4 854.6H1773.2M1727.4 547.5H1773.2M1727.4 612.5H1773.2M1727.4 758.2H1773.2M1727.4 812.1H1773.2M1727.4 631.1H1773.2" stroke="#a6cfae" stroke-width="2.0" opacity="0.16" fill="none"/>
<path d="M1727.4 1055.8H1773.2M1727.4 760.9H1773.2M1727.4 1000.4H1773.2M1727.4 802.8H1773.2M1727.4 832.5H1773.2M1727.4 1060.5H1773.2" stroke="#a6cfae" stroke-width="1.2" opacity="0.16" fill="none"/>
<path d="M1727.4 592.9H1773.2M1727.4 750.4H1773.2M1727.4 925.2H1773.2M1727.4 858.4H1773.2M1727.4 676.3H1773.2M1727.4 1054.8H1773.2M1727.4 759.8H1773.2" stroke="#a6cfae" stroke-width="1" opacity="0.16" fill="none"/>
<path d="M1727.4 634.0H1773.2M1727.4 1062.3H1773.2M1727.4 1031.8H1773.2M1727.4 1034.5H1773.2M1727.4 886.3H1773.2M1727.4 516.7H1773.2M1727.4 567.5H1773.2M1727.4 1069.7H1773.2" stroke="#a6cfae" stroke-width="0.9" opacity="0.16" fill="none"/>
<path d="M1727.4 994.6H1773.2M1727.4 760.8H1773.2M1727.4 897.3H1773.2M1727.4 819.4H1773.2M1727.4 771.0H1773.2M1727.4 1073.1H1773.2M1727.4 586.7H1773.2M1727.4 719.0H1773.2M1727.4 811.9H1773.2" stroke="#a6cfae" stroke-width="1.6" opacity="0.16" fill="none"/>
<path d="M1773.2 630.4H1818.9M1773.2 812.3H1818.9M1773.2 716.0H1818.9M1773.2 900.4H1818.9M1773.2 572.4H1818.9M1773.2 708.1H1818.9M1773.2 642.8H1818.9M1773.2 588.6H1818.9M1773.2 846.2H1818.9M1773.2 948.0H1818.9M1773.2 804.2H1818.9M1773.2 624.6H1818.9M1773.2 927.8H1818.9M1773.2 1051.4H1818.9" stroke="#eaf5e6" stroke-width="1" opacity="0.26" fill="none"/>
<path d="M1773.2 882.2H1818.9M1773.2 917.2H1818.9M1773.2 826.0H1818.9M1773.2 820.3H1818.9M1773.2 534.1H1818.9M1773.2 865.5H1818.9M1773.2 1012.2H1818.9M1773.2 971.0H1818.9M1773.2 724.2H1818.9M1773.2 514.9H1818.9M1773.2 693.9H1818.9M1773.2 683.3H1818.9M1773.2 784.5H1818.9" stroke="#eaf5e6" stroke-width="0.9" opacity="0.26" fill="none"/>
<path d="M1773.2 818.5H1818.9M1773.2 824.0H1818.9M1773.2 868.7H1818.9M1773.2 676.6H1818.9M1773.2 831.3H1818.9M1773.2 973.0H1818.9M1773.2 1057.6H1818.9M1773.2 566.7H1818.9M1773.2 1014.0H1818.9M1773.2 816.8H1818.9M1773.2 981.4H1818.9M1773.2 1069.1H1818.9" stroke="#eaf5e6" stroke-width="2.0" opacity="0.26" fill="none"/>
<path d="M1773.2 566.7H1818.9M1773.2 1034.8H1818.9M1773.2 579.2H1818.9M1773.2 580.7H1818.9M1773.2 509.2H1818.9M1773.2 802.0H1818.9M1773.2 787.8H1818.9M1773.2 823.0H1818.9M1773.2 512.8H1818.9M1773.2 544.2H1818.9M1773.2 635.1H1818.9M1773.2 503.8H1818.9" stroke="#eaf5e6" stroke-width="1.6" opacity="0.26" fill="none"/>
<path d="M1773.2 547.5H1818.9M1773.2 899.8H1818.9M1773.2 803.2H1818.9M1773.2 988.4H1818.9M1773.2 1062.1H1818.9M1773.2 613.9H1818.9M1773.2 786.7H1818.9M1773.2 853.0H1818.9M1773.2 997.1H1818.9M1773.2 839.5H1818.9" stroke="#eaf5e6" stroke-width="1.2" opacity="0.26" fill="none"/>
<path d="M1773.2 993.3H1818.9M1773.2 831.3H1818.9M1773.2 528.1H1818.9M1773.2 580.0H1818.9M1773.2 758.9H1818.9M1773.2 787.2H1818.9M1773.2 1058.1H1818.9M1773.2 1013.6H1818.9M1773.2 846.7H1818.9" stroke="#eaf5e6" stroke-width="0.7" opacity="0.26" fill="none"/>
<path d="M1773.2 512.4H1818.9M1773.2 1013.2H1818.9M1773.2 895.2H1818.9M1773.2 766.7H1818.9M1773.2 841.6H1818.9M1773.2 528.3H1818.9" stroke="#a6cfae" stroke-width="1.2" opacity="0.16" fill="none"/>
<path d="M1773.2 1015.5H1818.9M1773.2 710.1H1818.9M1773.2 935.1H1818.9M1773.2 706.3H1818.9M1773.2 1046.7H1818.9M1773.2 927.5H1818.9M1773.2 1028.1H1818.9M1773.2 618.1H1818.9M1773.2 666.5H1818.9" stroke="#a6cfae" stroke-width="1.6" opacity="0.16" fill="none"/>
<path d="M1773.2 527.0H1818.9M1773.2 927.7H1818.9M1773.2 810.8H1818.9M1773.2 966.5H1818.9M1773.2 1013.4H1818.9M1773.2 1001.9H1818.9M1773.2 796.4H1818.9M1773.2 589.0H1818.9M1773.2 543.5H1818.9M1773.2 513.9H1818.9M1773.2 868.6H1818.9M1773.2 914.4H1818.9M1773.2 881.3H1818.9" stroke="#a6cfae" stroke-width="0.9" opacity="0.16" fill="none"/>
<path d="M1773.2 660.6H1818.9M1773.2 537.6H1818.9M1773.2 558.5H1818.9M1773.2 900.9H1818.9M1773.2 1066.4H1818.9M1773.2 921.1H1818.9M1773.2 535.8H1818.9M1773.2 976.0H1818.9M1773.2 733.2H1818.9M1773.2 539.3H1818.9M1773.2 923.5H1818.9M1773.2 887.6H1818.9M1773.2 844.2H1818.9M1773.2 993.3H1818.9M1773.2 1028.9H1818.9" stroke="#a6cfae" stroke-width="1" opacity="0.16" fill="none"/>
<path d="M1773.2 1083.6H1818.9M1773.2 1038.3H1818.9M1773.2 843.2H1818.9M1773.2 752.1H1818.9" stroke="#a6cfae" stroke-width="0.7" opacity="0.16" fill="none"/>
<path d="M1773.2 872.5H1818.9M1773.2 504.6H1818.9M1773.2 710.2H1818.9" stroke="#a6cfae" stroke-width="2.0" opacity="0.16" fill="none"/>
<path d="M1818.9 642.4H1864.6M1818.9 528.9H1864.6M1818.9 816.0H1864.6M1818.9 876.5H1864.6M1818.9 1010.4H1864.6M1818.9 968.4H1864.6M1818.9 1013.7H1864.6M1818.9 592.4H1864.6M1818.9 811.6H1864.6M1818.9 577.8H1864.6M1818.9 828.4H1864.6" stroke="#9cc9a4" stroke-width="0.7" opacity="0.12" fill="none"/>
<path d="M1818.9 1066.5H1864.6M1818.9 976.2H1864.6M1818.9 956.5H1864.6M1818.9 1044.3H1864.6M1818.9 533.2H1864.6M1818.9 749.1H1864.6M1818.9 900.2H1864.6M1818.9 590.5H1864.6M1818.9 682.1H1864.6" stroke="#9cc9a4" stroke-width="1.6" opacity="0.12" fill="none"/>
<path d="M1818.9 700.9H1864.6M1818.9 592.1H1864.6M1818.9 838.3H1864.6" stroke="#9cc9a4" stroke-width="0.9" opacity="0.12" fill="none"/>
<path d="M1818.9 503.3H1864.6M1818.9 625.1H1864.6M1818.9 858.8H1864.6M1818.9 868.5H1864.6M1818.9 884.8H1864.6M1818.9 917.8H1864.6M1818.9 710.7H1864.6M1818.9 936.0H1864.6M1818.9 829.1H1864.6M1818.9 808.0H1864.6M1818.9 885.6H1864.6" stroke="#9cc9a4" stroke-width="1" opacity="0.12" fill="none"/>
<path d="M1818.9 881.8H1864.6M1818.9 602.9H1864.6M1818.9 735.2H1864.6M1818.9 978.5H1864.6M1818.9 1074.9H1864.6" stroke="#9cc9a4" stroke-width="1.2" opacity="0.12" fill="none"/>
<path d="M1818.9 949.0H1864.6" stroke="#9cc9a4" stroke-width="2.0" opacity="0.12" fill="none"/>
<defs><linearGradient id="h2kd" x1="0" y1="0" x2="0" y2="1"><stop offset="0" stop-color="#a6cfa2"/><stop offset="0.04" stop-color="#b8d9a8"/><stop offset="0.15" stop-color="#cfe3ae"/><stop offset="0.3" stop-color="#e2ebb2"/><stop offset="0.45" stop-color="#f0f0b0"/><stop offset="0.6" stop-color="#f8eda2"/><stop offset="0.75" stop-color="#fbe294"/><stop offset="0.9" stop-color="#fbd086"/><stop offset="1" stop-color="#f8bd78"/></linearGradient></defs>
<rect x="1919.1" y="499.3" width="22.8" height="589.9" fill="url(#h2kd)"/>
<path d="M1670.8 427.7H1676.6M1670.8 450.6H1676.6M1670.8 473.0H1676.6M1670.8 495.7H1676.6M1676.6 424.1V496.5" stroke="#111" stroke-width="1.7" fill="none"/>
<text x="1670.8" y="432.9" font-size="18.5" text-anchor="end" fill="#111">1000</text>
<text x="1670.8" y="455.8" font-size="18.5" text-anchor="end" fill="#111">100</text>
<text x="1670.8" y="478.2" font-size="18.5" text-anchor="end" fill="#111">10</text>
<text x="1670.8" y="500.9" font-size="18.5" text-anchor="end" fill="#111">1</text>
<line x1="1728.8" y1="495.7" x2="1765.0" y2="495.7" stroke="#111" stroke-width="1.7"/>
<rect x="1775.6" y="473.0" width="36.2" height="22.7" fill="#808285" stroke="#111" stroke-width="1.7"/>
<rect x="1822.5" y="450.6" width="36.2" height="45.1" fill="#808285" stroke="#111" stroke-width="1.7"/>
<rect x="1869.4" y="428.1" width="36.2" height="67.6" fill="#808285" stroke="#111" stroke-width="1.7"/>
<text x="1915.5" y="444.8" font-size="19.6" text-anchor="start" fill="#111">FLAG−MYC/</text>
<text x="1915.5" y="468.7" font-size="19.6" text-anchor="start" fill="#111">MAX complex</text>
<text x="1915.5" y="492.5" font-size="19.6" text-anchor="start" fill="#111">(nM)</text>
<text x="1664.7" y="1098.2" font-size="22" text-anchor="end" fill="#111" transform="rotate(-90 1664.7 1098.2)">Overlap</text>
<text x="1708.9" y="1098.2" font-size="22" text-anchor="end" fill="#111" transform="rotate(-90 1708.9 1098.2)">0 nM</text>
<text x="1755.9" y="1098.2" font-size="22" text-anchor="end" fill="#111" transform="rotate(-90 1755.9 1098.2)">1 nM</text>
<text x="1802.8" y="1098.2" font-size="22" text-anchor="end" fill="#111" transform="rotate(-90 1802.8 1098.2)">10 nM</text>
<text x="1849.8" y="1098.2" font-size="22" text-anchor="end" fill="#111" transform="rotate(-90 1849.8 1098.2)">100 nM</text>
<text x="1896.8" y="1098.2" font-size="22" text-anchor="end" fill="#111" transform="rotate(-90 1896.8 1098.2)">1000 nM</text>
<g transform="rotate(-90 1939.3 1098.2)">
<text x="1894.9" y="1097.2" font-size="22" text-anchor="start" fill="#111">K</text>
<text x="1909.6" y="1104.2" font-size="12.5" text-anchor="start" fill="#111">d</text>
<text x="1917.1" y="1090.2" font-size="12.5" text-anchor="start" fill="#111">App</text>
</g>
<text x="1629.1" y="790.8" font-size="26.6" text-anchor="middle" fill="#111" transform="rotate(-90 1629.1 790.8)" textLength="99.5" lengthAdjust="spacingAndGlyphs" class="pn">n = 6429</text>
<text x="1961.9" y="518.5" font-size="22.3" text-anchor="start" fill="#111">Overlap with peaks</text>
<text x="1961.9" y="545.9" font-size="22.3" text-anchor="start" fill="#111">endogenous ChIP</text>
<rect x="1962.4" y="556.3" width="23.5" height="23.4" fill="#0e6866"/>
<text x="1994.0" y="575.4" font-size="18.5" text-anchor="start" fill="#111">Multiple peaks</text>
<rect x="1962.4" y="581.8" width="23.5" height="23.4" fill="#2e917f"/>
<text x="1994.0" y="600.9" font-size="18.5" text-anchor="start" fill="#111">One peak</text>
<rect x="1962.4" y="607.2" width="23.5" height="23.4" fill="#c2d5ec"/>
<text x="1994.0" y="626.6" font-size="18.5" text-anchor="start" fill="#111">No overlap</text>
<text x="1962.8" y="666.0" font-size="22.3" text-anchor="start" fill="#111">Transcription</text>
<text x="1962.8" y="692.5" font-size="22.3" text-anchor="start" fill="#111">factor</text>
<rect x="1964.5" y="700" width="22.2" height="21.6" fill="#1058a8"/>
<rect x="1964.5" y="725.2" width="22.2" height="21.8" fill="#0b6b3a"/>
<text x="1997.0" y="715.0" font-size="18.5" text-anchor="start" fill="#111">YY1</text>
<text x="1997.0" y="740.2" font-size="18.5" text-anchor="start" fill="#111">MYC</text>
<text x="1961.9" y="783.6" font-size="22.3" text-anchor="start" fill="#111">Relative signal</text>
<text x="1961.9" y="809.6" font-size="22.3" text-anchor="start" fill="#111">at peak</text>
<defs><linearGradient id="gry" x1="0" y1="0" x2="0" y2="1"><stop offset="0" stop-color="#2f3133"/><stop offset="0.25" stop-color="#55585a"/><stop offset="0.5" stop-color="#8a8c8e"/><stop offset="0.75" stop-color="#c4c5c6"/><stop offset="1" stop-color="#ffffff"/></linearGradient></defs>
<rect x="1960" y="823" width="26.7" height="147" fill="url(#gry)"/>
<path d="M1960 826.3h5.3M1981.4 826.3h5.3" stroke="#fff" stroke-width="1.3"/>
<text x="1991.8" y="833.1" font-size="18.5" text-anchor="start" fill="#111">1</text>
<path d="M1960 853.9h5.3M1981.4 853.9h5.3" stroke="#fff" stroke-width="1.3"/>
<text x="1991.8" y="860.7" font-size="18.5" text-anchor="start" fill="#111">0.8</text>
<path d="M1960 881.6h5.3M1981.4 881.6h5.3" stroke="#fff" stroke-width="1.3"/>
<text x="1991.8" y="888.4" font-size="18.5" text-anchor="start" fill="#111">0.6</text>
<path d="M1960 909.2h5.3M1981.4 909.2h5.3" stroke="#fff" stroke-width="1.3"/>
<text x="1991.8" y="916.0" font-size="18.5" text-anchor="start" fill="#111">0.4</text>
<path d="M1960 936.9h5.3M1981.4 936.9h5.3" stroke="#fff" stroke-width="1.3"/>
<text x="1991.8" y="943.7" font-size="18.5" text-anchor="start" fill="#111">0.2</text>
<path d="M1960 964.5h5.3M1981.4 964.5h5.3" stroke="#fff" stroke-width="1.3"/>
<text x="1991.8" y="971.3" font-size="18.5" text-anchor="start" fill="#111">0</text>
<text x="1960.6" y="1014.0" font-size="22" text-anchor="start" fill="#111">K</text>
<text x="1975.3" y="1021.3" font-size="12.5" text-anchor="start" fill="#111">d</text>
<text x="1982.5" y="1007.0" font-size="12.5" text-anchor="start" fill="#111">App</text>
<text x="2009.6" y="1014.0" font-size="22" text-anchor="start" fill="#111">(nM)</text>
<defs><linearGradient id="spec" x1="0" y1="0" x2="0" y2="1"><stop offset="0" stop-color="#2b83ba"/><stop offset="0.03" stop-color="#2b83ba"/><stop offset="0.27" stop-color="#abdda4"/><stop offset="0.5" stop-color="#ffffbf"/><stop offset="0.74" stop-color="#fdae61"/><stop offset="0.97" stop-color="#d7191c"/><stop offset="1" stop-color="#d7191c"/></linearGradient></defs>
<rect x="1958.4" y="1034.7" width="21.8" height="101" fill="url(#spec)"/>
<path d="M1958.4 1037.4h4.4M1975.8 1037.4h4.4" stroke="#fff" stroke-width="1.3"/>
<text x="1992.4" y="1042.7" font-size="22" text-anchor="start" fill="#111">200</text>
<path d="M1958.4 1085.2h4.4M1975.8 1085.2h4.4" stroke="#fff" stroke-width="1.3"/>
<text x="1992.4" y="1090.5" font-size="22" text-anchor="start" fill="#111">125</text>
<path d="M1958.4 1132.4h4.4M1975.8 1132.4h4.4" stroke="#fff" stroke-width="1.3"/>
<text x="1992.4" y="1137.5" font-size="22" text-anchor="start" fill="#111">50</text>
<path d="M148.5 1298V1494.9H975.6" stroke="#2a2a2a" stroke-width="1.4" fill="none"/>
<line x1="136.3" y1="1298.2" x2="148.5" y2="1298.2" stroke="#505050" stroke-width="1.5"/>
<text x="131.9" y="1305.5" font-size="22.8" text-anchor="end" fill="#111">10000</text>
<line x1="136.3" y1="1345.8" x2="148.5" y2="1345.8" stroke="#505050" stroke-width="1.5"/>
<text x="131.9" y="1353.1" font-size="22.8" text-anchor="end" fill="#111">1000</text>
<line x1="136.3" y1="1392.6" x2="148.5" y2="1392.6" stroke="#505050" stroke-width="1.5"/>
<text x="131.9" y="1399.9" font-size="22.8" text-anchor="end" fill="#111">100</text>
<line x1="136.3" y1="1439.4" x2="148.5" y2="1439.4" stroke="#505050" stroke-width="1.5"/>
<text x="131.9" y="1446.7" font-size="22.8" text-anchor="end" fill="#111">10</text>
<line x1="136.3" y1="1486.3" x2="148.5" y2="1486.3" stroke="#505050" stroke-width="1.5"/>
<text x="131.9" y="1493.6" font-size="22.8" text-anchor="end" fill="#111">1</text>
<line x1="186" y1="1494.9" x2="186" y2="1518.1000000000001" stroke="#5a5a5a" stroke-width="1.6"/>
<text x="187.2" y="1542.7" font-size="25.3" text-anchor="middle" fill="#111">−1,000,000</text>
<line x1="374" y1="1494.9" x2="374" y2="1518.1000000000001" stroke="#5a5a5a" stroke-width="1.6"/>
<text x="377.0" y="1542.7" font-size="25.3" text-anchor="middle" fill="#111">−500,000</text>
<line x1="561.8" y1="1494.9" x2="561.8" y2="1518.1000000000001" stroke="#5a5a5a" stroke-width="1.6"/>
<text x="561.6" y="1542.7" font-size="25.3" text-anchor="middle" fill="#111">0</text>
<line x1="749.6" y1="1494.9" x2="749.6" y2="1518.1000000000001" stroke="#5a5a5a" stroke-width="1.6"/>
<text x="752.7" y="1542.7" font-size="25.3" text-anchor="middle" fill="#111">500,000</text>
<line x1="937.6" y1="1494.9" x2="937.6" y2="1518.1000000000001" stroke="#5a5a5a" stroke-width="1.6"/>
<text x="945.2" y="1542.7" font-size="25.3" text-anchor="middle" fill="#111">1,000,000</text>
<text x="565.2" y="1278.3" font-size="25.5" text-anchor="middle" fill="#111" xml:space="preserve">FOXA1</text>
<text x="52.0" y="1398.2" font-size="25.3" text-anchor="middle" fill="#111" transform="rotate(-90 52.0 1398.2)">count</text>
<path d="M186.00 1486.3V1463.9H188.67V1463.9H192.45V1458.0H196.23V1486.3ZM200.01 1486.3V1472.2H203.80V1472.2H207.58V1453.5H211.36V1472.2H215.14V1453.5H218.93V1472.2H222.71V1472.2H226.49V1449.8H230.27V1486.3ZM234.06 1486.3V1472.2H237.84V1449.8H241.62V1486.3ZM245.40 1486.3V1453.5H249.19V1453.5H252.97V1453.5H256.75V1446.6H260.53V1463.9H264.31V1472.2H268.10V1486.3ZM271.88 1486.3V1458.0H275.66V1486.3ZM279.44 1486.3V1443.9H283.23V1443.9H287.01V1458.0H290.79V1458.0H294.57V1458.0H298.36V1486.3ZM302.14 1486.3V1446.6H305.92V1443.9H309.71V1435.6H313.49V1458.0H317.27V1446.6H321.05V1458.0H324.84V1463.9H328.62V1435.6H332.40V1453.5H336.18V1463.9H339.97V1443.9H343.75V1449.8H347.53V1446.6H351.31V1446.6H355.10V1435.6H358.88V1441.5H362.66V1443.9H366.44V1446.6H370.23V1453.5H374.01V1463.9H377.79V1449.8H381.57V1449.8H385.36V1443.9H389.14V1434.0H392.92V1443.9H396.70V1446.6H400.49V1434.0H404.27V1453.5H408.05V1437.4H411.83V1435.6H415.62V1443.9H419.40V1443.9H423.18V1443.9H426.96V1441.5H430.75V1429.8H434.53V1428.5H438.31V1443.9H442.09V1446.6H445.88V1418.4H449.66V1428.5H453.44V1419.1H457.22V1420.7H461.00V1418.4H464.79V1420.7H468.57V1415.0H472.35V1414.4H476.13V1414.4H479.92V1413.2H483.70V1418.4H487.48V1411.6H491.26V1406.5H495.05V1406.5H498.83V1406.1H502.61V1404.6H506.40V1403.9H510.18V1399.4H513.96V1394.1H517.74V1400.0H521.52V1392.4H525.31V1391.4H529.09V1389.0H532.87V1386.0H536.65V1382.6H540.44V1373.8H544.22V1370.3H548.00V1363.5H551.78V1357.0H555.57V1349.4H559.35V1307.2H563.13V1350.4H566.92V1357.7H570.70V1358.6H574.48V1365.6H578.26V1370.3H582.05V1372.5H585.83V1378.7H589.61V1378.9H593.39V1383.1H597.18V1384.1H600.96V1384.8H604.74V1390.8H608.52V1394.8H612.31V1394.1H616.09V1394.1H619.87V1396.9H623.65V1401.2H627.44V1400.0H631.22V1400.0H635.00V1409.1H638.78V1401.5H642.57V1404.2H646.35V1406.9H650.13V1403.5H653.91V1410.6H657.70V1419.1H661.48V1413.2H665.26V1415.0H669.04V1417.6H672.83V1420.7H676.61V1423.3H680.39V1421.5H684.17V1423.3H687.96V1423.3H691.74V1421.5H695.52V1428.5H699.30V1431.1H703.09V1435.6H706.87V1419.9H710.65V1423.3H714.43V1423.3H718.22V1434.0H722.00V1443.9H725.78V1434.0H729.56V1435.6H733.35V1427.4H737.13V1427.4H740.91V1439.3H744.69V1439.3H748.48V1435.6H752.26V1443.9H756.04V1432.5H759.82V1453.5H763.61V1439.3H767.39V1453.5H771.17V1431.1H774.95V1443.9H778.74V1439.3H782.52V1431.1H786.30V1435.6H790.08V1443.9H793.87V1449.8H797.65V1453.5H801.43V1439.3H805.21V1439.3H809.00V1439.3H812.78V1435.6H816.56V1439.3H820.34V1443.9H824.12V1437.4H827.91V1486.3ZM831.69 1486.3V1449.8H835.47V1449.8H839.26V1463.9H843.04V1453.5H846.82V1463.9H850.60V1449.8H854.38V1446.6H858.17V1449.8H861.95V1441.5H865.73V1446.6H869.52V1472.2H873.30V1458.0H877.08V1463.9H880.86V1472.2H884.64V1435.6H888.43V1453.5H892.21V1472.2H895.99V1472.2H899.78V1453.5H903.56V1443.9H907.34V1449.8H911.12V1458.0H914.90V1443.9H918.69V1458.0H922.47V1453.5H926.25V1453.5H930.04V1449.8H933.82V1446.6H937.50V1486.3Z" fill="#6a2268"/>
<path d="M1112.9 1297.7V1494.8H1939.9" stroke="#2a2a2a" stroke-width="1.4" fill="none"/>
<line x1="1100.7" y1="1323.4" x2="1112.9" y2="1323.4" stroke="#505050" stroke-width="1.5"/>
<text x="1096.3" y="1330.7" font-size="22.8" text-anchor="end" fill="#111">1000</text>
<line x1="1100.7" y1="1377.4" x2="1112.9" y2="1377.4" stroke="#505050" stroke-width="1.5"/>
<text x="1096.3" y="1384.7" font-size="22.8" text-anchor="end" fill="#111">100</text>
<line x1="1100.7" y1="1431.6" x2="1112.9" y2="1431.6" stroke="#505050" stroke-width="1.5"/>
<text x="1096.3" y="1438.9" font-size="22.8" text-anchor="end" fill="#111">10</text>
<line x1="1100.7" y1="1485.8" x2="1112.9" y2="1485.8" stroke="#505050" stroke-width="1.5"/>
<text x="1096.3" y="1493.1" font-size="22.8" text-anchor="end" fill="#111">1</text>
<line x1="1150.5" y1="1494.8" x2="1150.5" y2="1518.0" stroke="#5a5a5a" stroke-width="1.6"/>
<text x="1155.3" y="1542.6" font-size="25.3" text-anchor="middle" fill="#111">−1,000,000</text>
<line x1="1338.6" y1="1494.8" x2="1338.6" y2="1518.0" stroke="#5a5a5a" stroke-width="1.6"/>
<text x="1342.2" y="1542.6" font-size="25.3" text-anchor="middle" fill="#111">−500,000</text>
<line x1="1526.1" y1="1494.8" x2="1526.1" y2="1518.0" stroke="#5a5a5a" stroke-width="1.6"/>
<text x="1526.6" y="1542.6" font-size="25.3" text-anchor="middle" fill="#111">0</text>
<line x1="1714.2" y1="1494.8" x2="1714.2" y2="1518.0" stroke="#5a5a5a" stroke-width="1.6"/>
<text x="1718.4" y="1542.6" font-size="25.3" text-anchor="middle" fill="#111">500,000</text>
<line x1="1902.3" y1="1494.8" x2="1902.3" y2="1518.0" stroke="#5a5a5a" stroke-width="1.6"/>
<text x="1909.1" y="1542.6" font-size="25.3" text-anchor="middle" fill="#111">1,000,000</text>
<text x="1533.0" y="1278.3" font-size="25.5" text-anchor="middle" fill="#111" xml:space="preserve">SP1</text>
<path d="M1467.00 1485.8V1469.5H1470.78V1485.8ZM1474.56 1485.8V1448.0H1478.34V1460.0H1482.12V1485.8ZM1485.90 1485.8V1448.0H1489.68V1453.2H1493.46V1443.7H1497.24V1443.7H1501.02V1440.1H1504.80V1443.7H1508.58V1429.5H1512.36V1404.4H1516.14V1392.1H1519.92V1379.6H1523.70V1306.5H1527.48V1374.5H1531.26V1404.4H1535.04V1405.4H1538.82V1422.2H1542.60V1429.5H1546.38V1436.9H1550.16V1443.7H1553.94V1440.1H1557.72V1443.7H1561.50V1469.5H1565.28V1443.7H1569.06V1485.8ZM1572.84 1485.8V1469.5H1576.62V1485.8ZM1580.40 1485.8V1469.5H1584.18V1485.8ZM1591.74 1485.8V1469.5H1595.52V1485.8ZM1606.86 1485.8V1469.5H1610.64V1485.8ZM1637.10 1485.8V1469.5H1640.88V1485.8Z" fill="#a8182c"/>
<path d="M148.5 1625.7V1823H975.6" stroke="#2a2a2a" stroke-width="1.4" fill="none"/>
<line x1="136.3" y1="1672.1" x2="148.5" y2="1672.1" stroke="#505050" stroke-width="1.5"/>
<text x="131.9" y="1679.4" font-size="22.8" text-anchor="end" fill="#111">1000</text>
<line x1="136.3" y1="1719.6" x2="148.5" y2="1719.6" stroke="#505050" stroke-width="1.5"/>
<text x="131.9" y="1726.9" font-size="22.8" text-anchor="end" fill="#111">100</text>
<line x1="136.3" y1="1767" x2="148.5" y2="1767" stroke="#505050" stroke-width="1.5"/>
<text x="131.9" y="1774.3" font-size="22.8" text-anchor="end" fill="#111">10</text>
<line x1="136.3" y1="1814.4" x2="148.5" y2="1814.4" stroke="#505050" stroke-width="1.5"/>
<text x="131.9" y="1821.7" font-size="22.8" text-anchor="end" fill="#111">1</text>
<line x1="186" y1="1823" x2="186" y2="1846.2" stroke="#5a5a5a" stroke-width="1.6"/>
<text x="190.2" y="1871.2" font-size="25.3" text-anchor="middle" fill="#111">−1,000,000</text>
<line x1="374" y1="1823" x2="374" y2="1846.2" stroke="#5a5a5a" stroke-width="1.6"/>
<text x="375.6" y="1871.2" font-size="25.3" text-anchor="middle" fill="#111">−500,000</text>
<line x1="561.8" y1="1823" x2="561.8" y2="1846.2" stroke="#5a5a5a" stroke-width="1.6"/>
<text x="561.6" y="1871.2" font-size="25.3" text-anchor="middle" fill="#111">0</text>
<line x1="749.6" y1="1823" x2="749.6" y2="1846.2" stroke="#5a5a5a" stroke-width="1.6"/>
<text x="752.7" y="1871.2" font-size="25.3" text-anchor="middle" fill="#111">500,000</text>
<line x1="937.6" y1="1823" x2="937.6" y2="1846.2" stroke="#5a5a5a" stroke-width="1.6"/>
<text x="945.2" y="1871.2" font-size="25.3" text-anchor="middle" fill="#111">1,000,000</text>
<text x="566.8" y="1609.7" font-size="25.5" text-anchor="middle" fill="#111" xml:space="preserve">YY1 F121</text>
<text x="52.0" y="1746.3" font-size="25.3" text-anchor="middle" fill="#111" transform="rotate(-90 52.0 1746.3)">count</text>
<path d="M276.50 1814.4V1800.1H280.28V1814.4ZM291.62 1814.4V1800.1H295.40V1814.4ZM306.74 1814.4V1791.8H310.52V1814.4ZM314.30 1814.4V1800.1H318.08V1800.1H321.86V1785.9H325.64V1814.4ZM333.20 1814.4V1791.8H336.98V1814.4ZM352.10 1814.4V1800.1H355.88V1814.4ZM359.66 1814.4V1791.8H363.44V1800.1H367.22V1814.4ZM378.56 1814.4V1800.1H382.34V1777.5H386.12V1814.4ZM397.46 1814.4V1785.9H401.24V1814.4ZM405.02 1814.4V1800.1H408.80V1800.1H412.58V1791.8H416.36V1800.1H420.14V1814.4ZM423.92 1814.4V1785.9H427.70V1781.3H431.48V1791.8H435.26V1785.9H439.04V1791.8H442.82V1814.4ZM446.60 1814.4V1800.1H450.38V1774.3H454.16V1814.4ZM457.94 1814.4V1791.8H461.72V1785.9H465.50V1785.9H469.28V1777.5H473.06V1763.2H476.84V1791.8H480.62V1760.1H484.40V1781.3H488.18V1774.3H491.96V1761.6H495.74V1756.1H499.52V1756.1H503.30V1760.1H507.08V1765.0H510.86V1751.7H514.64V1749.0H518.42V1750.8H522.20V1739.5H525.98V1736.6H529.76V1734.3H533.54V1725.5H537.32V1727.5H541.10V1722.3H544.88V1712.8H548.66V1704.5H552.44V1697.1H556.22V1683.5H560.00V1635.7H563.78V1685.6H567.56V1697.6H571.34V1703.7H575.12V1712.0H578.90V1718.8H582.68V1720.7H586.46V1730.5H590.24V1729.2H594.02V1733.5H597.80V1738.0H601.58V1741.8H605.36V1742.7H609.14V1746.3H612.92V1746.3H616.70V1754.0H620.48V1759.2H624.26V1765.0H628.04V1758.1H631.82V1755.6H635.60V1767.0H639.38V1767.0H643.16V1781.3H646.94V1769.2H650.72V1771.6H654.50V1765.0H658.28V1769.2H662.06V1777.5H665.84V1777.5H669.62V1767.0H673.40V1777.5H677.18V1771.6H680.96V1774.3H684.74V1800.1H688.52V1785.9H692.30V1781.3H696.08V1785.9H699.86V1800.1H703.64V1814.4ZM707.42 1814.4V1785.9H711.20V1800.1H714.98V1785.9H718.76V1814.4ZM722.54 1814.4V1800.1H726.32V1800.1H730.10V1785.9H733.88V1814.4ZM749.00 1814.4V1800.1H752.78V1814.4ZM760.34 1814.4V1800.1H764.12V1800.1H767.90V1814.4ZM771.68 1814.4V1800.1H775.46V1814.4ZM779.24 1814.4V1800.1H783.02V1800.1H786.80V1814.4ZM839.72 1814.4V1800.1H843.50V1814.4ZM847.28 1814.4V1785.9H851.06V1814.4ZM862.40 1814.4V1800.1H866.18V1814.4Z" fill="#115ba6"/>
<path d="M1112.8 1625.7V1823H1939.9" stroke="#2a2a2a" stroke-width="1.4" fill="none"/>
<line x1="1100.6" y1="1664.7" x2="1112.8" y2="1664.7" stroke="#505050" stroke-width="1.5"/>
<text x="1096.2" y="1672.0" font-size="22.8" text-anchor="end" fill="#111">1000</text>
<line x1="1100.6" y1="1714.6" x2="1112.8" y2="1714.6" stroke="#505050" stroke-width="1.5"/>
<text x="1096.2" y="1721.9" font-size="22.8" text-anchor="end" fill="#111">100</text>
<line x1="1100.6" y1="1764.5" x2="1112.8" y2="1764.5" stroke="#505050" stroke-width="1.5"/>
<text x="1096.2" y="1771.8" font-size="22.8" text-anchor="end" fill="#111">10</text>
<line x1="1100.6" y1="1814.4" x2="1112.8" y2="1814.4" stroke="#505050" stroke-width="1.5"/>
<text x="1096.2" y="1821.7" font-size="22.8" text-anchor="end" fill="#111">1</text>
<line x1="1150.5" y1="1823" x2="1150.5" y2="1846.2" stroke="#5a5a5a" stroke-width="1.6"/>
<text x="1155.3" y="1871.2" font-size="25.3" text-anchor="middle" fill="#111">−1,000,000</text>
<line x1="1338.6" y1="1823" x2="1338.6" y2="1846.2" stroke="#5a5a5a" stroke-width="1.6"/>
<text x="1342.2" y="1871.2" font-size="25.3" text-anchor="middle" fill="#111">−500,000</text>
<line x1="1526.1" y1="1823" x2="1526.1" y2="1846.2" stroke="#5a5a5a" stroke-width="1.6"/>
<text x="1526.6" y="1871.2" font-size="25.3" text-anchor="middle" fill="#111">0</text>
<line x1="1714.2" y1="1823" x2="1714.2" y2="1846.2" stroke="#5a5a5a" stroke-width="1.6"/>
<text x="1718.4" y="1871.2" font-size="25.3" text-anchor="middle" fill="#111">500,000</text>
<line x1="1902.3" y1="1823" x2="1902.3" y2="1846.2" stroke="#5a5a5a" stroke-width="1.6"/>
<text x="1909.1" y="1871.2" font-size="25.3" text-anchor="middle" fill="#111">1,000,000</text>
<text x="1534.0" y="1609.7" font-size="25.5" text-anchor="middle" fill="#111" xml:space="preserve">YY1 - ChIP-seq</text>
<path d="M1346.04 1814.4V1799.4H1349.82V1814.4ZM1364.94 1814.4V1799.4H1368.72V1814.4ZM1414.08 1814.4V1799.4H1417.86V1799.4H1421.64V1814.4ZM1436.76 1814.4V1799.4H1440.54V1779.5H1444.32V1799.4H1448.10V1799.4H1451.88V1799.4H1455.66V1814.4ZM1463.22 1814.4V1769.3H1467.00V1799.4H1470.78V1779.5H1474.56V1769.3H1478.34V1779.5H1482.12V1779.5H1485.90V1756.4H1489.68V1766.8H1493.46V1766.8H1497.24V1764.5H1501.02V1746.4H1504.80V1748.6H1508.58V1728.4H1512.36V1726.0H1516.14V1713.5H1519.92V1704.1H1523.70V1635.7H1527.48V1712.0H1531.26V1721.8H1535.04V1727.6H1538.82V1738.3H1542.60V1742.4H1546.38V1747.0H1550.16V1745.5H1553.94V1761.1H1557.72V1753.6H1561.50V1775.6H1565.28V1766.8H1569.06V1762.4H1572.84V1779.5H1576.62V1772.2H1580.40V1799.4H1584.18V1779.5H1587.96V1799.4H1591.74V1775.6H1595.52V1814.4ZM1599.30 1814.4V1799.4H1603.08V1799.4H1606.86V1799.4H1610.64V1814.4ZM1614.42 1814.4V1790.6H1618.20V1799.4H1621.98V1814.4ZM1625.76 1814.4V1799.4H1629.54V1814.4ZM1637.10 1814.4V1790.6H1640.88V1799.4H1644.66V1814.4ZM1674.90 1814.4V1799.4H1678.68V1814.4ZM1693.80 1814.4V1799.4H1697.58V1799.4H1701.36V1814.4ZM1716.48 1814.4V1799.4H1720.26V1814.4Z" fill="#115ba6"/>
<path d="M148.5 1953.4V2150.5H975.6" stroke="#2a2a2a" stroke-width="1.4" fill="none"/>
<line x1="136.3" y1="1993.5" x2="148.5" y2="1993.5" stroke="#505050" stroke-width="1.5"/>
<text x="131.9" y="2000.8" font-size="22.8" text-anchor="end" fill="#111">1000</text>
<line x1="136.3" y1="2043" x2="148.5" y2="2043" stroke="#505050" stroke-width="1.5"/>
<text x="131.9" y="2050.3" font-size="22.8" text-anchor="end" fill="#111">100</text>
<line x1="136.3" y1="2092.6" x2="148.5" y2="2092.6" stroke="#505050" stroke-width="1.5"/>
<text x="131.9" y="2099.9" font-size="22.8" text-anchor="end" fill="#111">10</text>
<line x1="136.3" y1="2142.2" x2="148.5" y2="2142.2" stroke="#505050" stroke-width="1.5"/>
<text x="131.9" y="2149.5" font-size="22.8" text-anchor="end" fill="#111">1</text>
<line x1="186" y1="2150.5" x2="186" y2="2173.7" stroke="#5a5a5a" stroke-width="1.6"/>
<text x="187.2" y="2200.4" font-size="25.3" text-anchor="middle" fill="#111">−1,000,000</text>
<line x1="374" y1="2150.5" x2="374" y2="2173.7" stroke="#5a5a5a" stroke-width="1.6"/>
<text x="377.0" y="2200.4" font-size="25.3" text-anchor="middle" fill="#111">−500,000</text>
<line x1="561.8" y1="2150.5" x2="561.8" y2="2173.7" stroke="#5a5a5a" stroke-width="1.6"/>
<text x="561.6" y="2200.4" font-size="25.3" text-anchor="middle" fill="#111">0</text>
<line x1="749.6" y1="2150.5" x2="749.6" y2="2173.7" stroke="#5a5a5a" stroke-width="1.6"/>
<text x="752.7" y="2200.4" font-size="25.3" text-anchor="middle" fill="#111">500,000</text>
<line x1="937.6" y1="2150.5" x2="937.6" y2="2173.7" stroke="#5a5a5a" stroke-width="1.6"/>
<text x="945.2" y="2200.4" font-size="25.3" text-anchor="middle" fill="#111">1,000,000</text>
<text x="571.4" y="1938.6" font-size="25.5" text-anchor="middle" fill="#111" xml:space="preserve">YY1  - CUT&amp;RUN</text>
<text x="52.0" y="2072.5" font-size="25.3" text-anchor="middle" fill="#111" transform="rotate(-90 52.0 2072.5)">count</text>
<text x="578.2" y="2242.9" font-size="26.1" text-anchor="middle" fill="#111">Distance peak to closest transcription start site (bp)</text>
<path d="M322.06 2142.2V2127.3H325.84V2142.2ZM401.44 2142.2V2127.3H405.22V2142.2ZM416.56 2142.2V2127.3H420.34V2127.3H424.12V2142.2ZM446.80 2142.2V2127.3H450.58V2127.3H454.36V2142.2ZM458.14 2142.2V2127.3H461.92V2107.5H465.70V2142.2ZM473.26 2142.2V2127.3H477.04V2107.5H480.82V2112.3H484.60V2118.5H488.38V2118.5H492.16V2112.3H495.94V2112.3H499.72V2100.3H503.50V2094.9H507.28V2112.3H511.06V2097.4H514.84V2100.3H518.62V2107.5H522.40V2086.3H526.18V2088.0H529.96V2085.4H533.74V2081.2H537.52V2073.7H541.30V2068.9H545.08V2061.7H548.86V2050.4H552.64V2038.5H556.42V2026.2H560.20V1962.8H563.98V2031.0H567.76V2048.5H571.54V2050.8H575.32V2058.8H579.10V2066.2H582.88V2066.9H586.66V2069.9H590.44V2086.3H594.22V2082.1H598.00V2088.0H601.78V2091.3H605.56V2100.3H609.34V2088.7H613.12V2090.5H616.90V2100.3H620.68V2103.6H624.46V2142.2ZM628.24 2142.2V2103.6H632.02V2107.5H635.80V2118.5H639.58V2118.5H643.36V2100.3H647.14V2107.5H650.92V2107.5H654.70V2112.3H658.48V2142.2ZM662.26 2142.2V2107.5H666.04V2142.2ZM669.82 2142.2V2127.3H673.60V2127.3H677.38V2142.2ZM684.94 2142.2V2127.3H688.72V2142.2ZM703.84 2142.2V2118.5H707.62V2142.2ZM711.40 2142.2V2112.3H715.18V2142.2ZM749.20 2142.2V2127.3H752.98V2142.2Z" fill="#115ba6"/>
<path d="M1112.8 1953.4V2150.5H1939.9" stroke="#2a2a2a" stroke-width="1.4" fill="none"/>
<line x1="1100.6" y1="1995.3" x2="1112.8" y2="1995.3" stroke="#505050" stroke-width="1.5"/>
<text x="1096.2" y="2002.6" font-size="22.8" text-anchor="end" fill="#111">1000</text>
<line x1="1100.6" y1="2044.2" x2="1112.8" y2="2044.2" stroke="#505050" stroke-width="1.5"/>
<text x="1096.2" y="2051.5" font-size="22.8" text-anchor="end" fill="#111">100</text>
<line x1="1100.6" y1="2093.2" x2="1112.8" y2="2093.2" stroke="#505050" stroke-width="1.5"/>
<text x="1096.2" y="2100.5" font-size="22.8" text-anchor="end" fill="#111">10</text>
<line x1="1100.6" y1="2142.2" x2="1112.8" y2="2142.2" stroke="#505050" stroke-width="1.5"/>
<text x="1096.2" y="2149.5" font-size="22.8" text-anchor="end" fill="#111">1</text>
<line x1="1150.5" y1="2150.5" x2="1150.5" y2="2173.7" stroke="#5a5a5a" stroke-width="1.6"/>
<text x="1155.3" y="2200.4" font-size="25.3" text-anchor="middle" fill="#111">−1,000,000</text>
<line x1="1338.6" y1="2150.5" x2="1338.6" y2="2173.7" stroke="#5a5a5a" stroke-width="1.6"/>
<text x="1342.2" y="2200.4" font-size="25.3" text-anchor="middle" fill="#111">−500,000</text>
<line x1="1526.1" y1="2150.5" x2="1526.1" y2="2173.7" stroke="#5a5a5a" stroke-width="1.6"/>
<text x="1526.6" y="2200.4" font-size="25.3" text-anchor="middle" fill="#111">0</text>
<line x1="1714.2" y1="2150.5" x2="1714.2" y2="2173.7" stroke="#5a5a5a" stroke-width="1.6"/>
<text x="1718.4" y="2200.4" font-size="25.3" text-anchor="middle" fill="#111">500,000</text>
<line x1="1902.3" y1="2150.5" x2="1902.3" y2="2173.7" stroke="#5a5a5a" stroke-width="1.6"/>
<text x="1909.1" y="2200.4" font-size="25.3" text-anchor="middle" fill="#111">1,000,000</text>
<text x="1530.5" y="1938.6" font-size="25.5" text-anchor="middle" fill="#111" xml:space="preserve">MYC</text>
<text x="1555.7" y="2242.9" font-size="26.1" text-anchor="middle" fill="#111">Distance peak to closest transcription start site (bp)</text>
<path d="M1425.22 2142.2V2118.8H1429.00V2142.2ZM1432.78 2142.2V2127.4H1436.56V2112.7H1440.34V2127.4H1444.12V2127.4H1447.90V2112.7H1451.68V2112.7H1455.46V2142.2ZM1459.24 2142.2V2127.4H1463.02V2112.7H1466.80V2108.0H1470.58V2112.7H1474.36V2094.1H1478.14V2104.1H1481.92V2108.0H1485.70V2085.0H1489.48V2082.5H1493.26V2084.6H1497.04V2078.4H1500.82V2071.3H1504.60V2069.4H1508.38V2056.2H1512.16V2048.0H1515.94V2038.1H1519.72V2023.3H1523.50V1962.8H1527.28V2024.1H1531.06V2036.1H1534.84V2047.9H1538.62V2058.5H1542.40V2062.3H1546.18V2069.4H1549.96V2071.5H1553.74V2075.5H1557.52V2075.5H1561.30V2084.3H1565.08V2088.3H1568.86V2094.1H1572.64V2097.9H1576.42V2097.9H1580.20V2112.7H1583.98V2097.9H1587.76V2118.8H1591.54V2108.0H1595.32V2104.1H1599.10V2118.8H1602.88V2118.8H1606.66V2127.4H1610.44V2118.8H1614.22V2127.4H1618.00V2108.0H1621.78V2142.2ZM1625.56 2142.2V2127.4H1629.34V2142.2ZM1636.90 2142.2V2118.8H1640.68V2142.2ZM1674.70 2142.2V2127.4H1678.48V2142.2ZM1682.26 2142.2V2127.4H1686.04V2142.2Z" fill="#0b6b3a"/>
</svg>
</body></html>
